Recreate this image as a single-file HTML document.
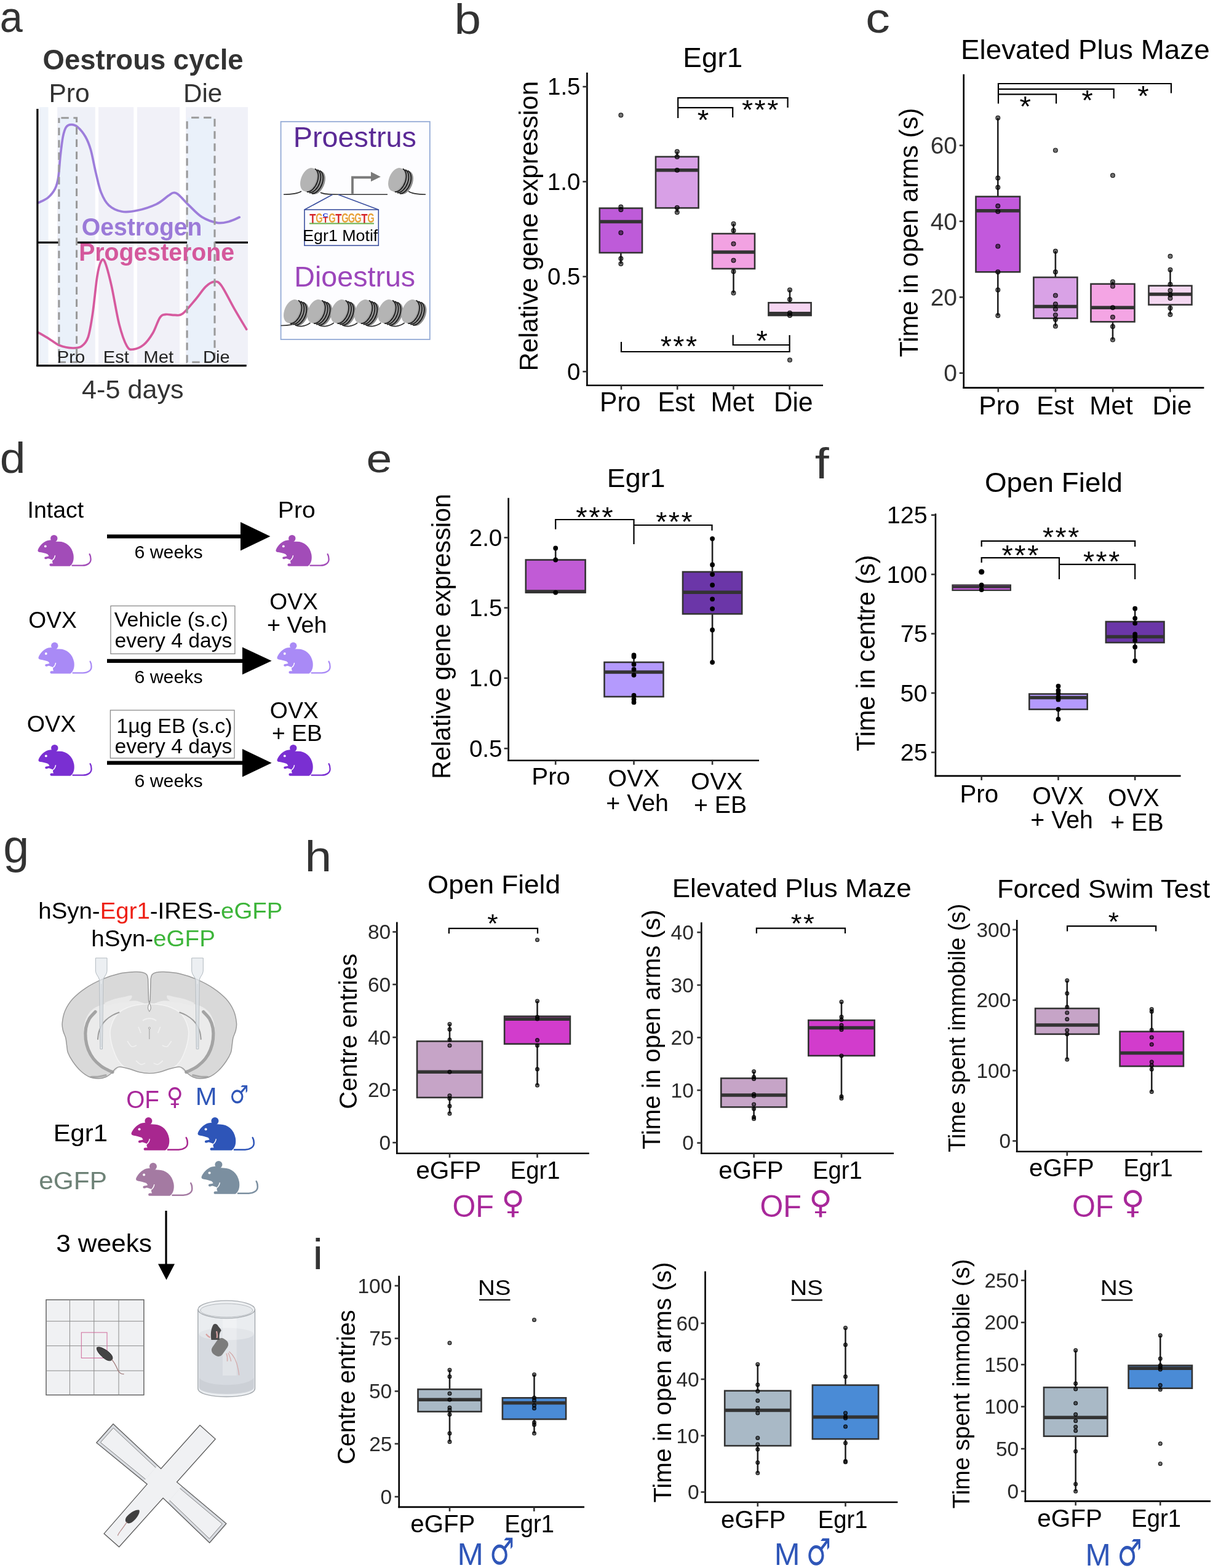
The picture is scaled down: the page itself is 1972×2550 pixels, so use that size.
<!DOCTYPE html>
<html><head><meta charset="utf-8"><title>Figure</title>
<style>html,body{margin:0;padding:0;background:#fff;} svg{display:block;} text{font-family:"Liberation Sans", Arial, Helvetica, sans-serif;}</style>
</head><body>
<svg width="1972" height="2550" viewBox="0 0 1972 2550">
<rect x="0" y="0" width="1972" height="2550" fill="#fff"/>
<text x="-0.16" y="51.50" font-size="70.00" fill="#333" textLength="37.04" lengthAdjust="spacingAndGlyphs" style="">a</text>
<text x="738.42" y="55.22" font-size="67.62" fill="#333" textLength="43.51" lengthAdjust="spacingAndGlyphs" style="">b</text>
<text x="1407.24" y="52.62" font-size="67.82" fill="#333" textLength="39.54" lengthAdjust="spacingAndGlyphs" style="">c</text>
<text x="-0.20" y="768.59" font-size="71.16" fill="#333" textLength="41.77" lengthAdjust="spacingAndGlyphs" style="">d</text>
<text x="595.60" y="767.76" font-size="64.00" fill="#333" textLength="41.77" lengthAdjust="spacingAndGlyphs" style="">e</text>
<text x="1324.66" y="777.60" font-size="71.31" fill="#333" textLength="22.96" lengthAdjust="spacingAndGlyphs" style="">f</text>
<text x="5.28" y="1402.96" font-size="75.44" fill="#333" textLength="42.02" lengthAdjust="spacingAndGlyphs" style="">g</text>
<text x="495.40" y="1417.00" font-size="70.07" fill="#333" textLength="43.70" lengthAdjust="spacingAndGlyphs" style="">h</text>
<text x="508.46" y="2063.90" font-size="71.31" fill="#333" textLength="16.54" lengthAdjust="spacingAndGlyphs" style="">i</text>
<rect x="64.00" y="174.20" width="14.50" height="420.20" fill="#eef3fa" stroke="none" stroke-width="0"/>
<rect x="93.20" y="174.20" width="61.60" height="420.20" fill="#eff1f8" stroke="none" stroke-width="0"/>
<rect x="160.00" y="174.20" width="57.30" height="420.20" fill="#f1f1f8" stroke="none" stroke-width="0"/>
<rect x="223.00" y="174.20" width="69.10" height="420.20" fill="#f1f1f8" stroke="none" stroke-width="0"/>
<rect x="302.00" y="174.20" width="101.00" height="420.20" fill="#f0f1f8" stroke="none" stroke-width="0"/>
<line x1="61.00" y1="394.40" x2="403.00" y2="394.40" stroke="#000" stroke-width="3.2"/>
<rect x="95.90" y="191.80" width="28.70" height="397.20" fill="#eaf1fa" stroke="none" stroke-width="0"/>
<rect x="304.10" y="191.20" width="44.90" height="397.80" fill="#eaf1fa" stroke="none" stroke-width="0"/>
<path d="M62.40,329.70 C65.02,328.30 73.55,325.15 78.10,321.30 C82.65,317.45 86.90,312.20 89.70,306.60 C92.50,301.00 93.50,296.47 94.90,287.70 C96.30,278.93 96.87,264.87 98.10,254.00 C99.33,243.13 100.73,230.37 102.30,222.50 C103.87,214.63 105.22,210.12 107.50,206.80 C109.78,203.48 112.83,202.60 116.00,202.60 C119.17,202.60 122.67,203.48 126.50,206.80 C130.33,210.12 135.50,216.37 139.00,222.50 C142.50,228.63 144.68,233.78 147.50,243.60 C150.32,253.42 153.10,269.85 155.90,281.40 C158.70,292.95 160.80,304.15 164.30,312.90 C167.80,321.65 171.30,328.72 176.90,333.90 C182.50,339.08 190.20,342.60 197.90,344.00 C205.60,345.40 213.63,344.33 223.10,342.30 C232.57,340.27 246.22,335.85 254.70,331.80 C263.18,327.75 269.45,321.05 274.00,318.00 C278.55,314.95 279.33,313.75 282.00,313.50 C284.67,313.25 285.80,313.10 290.00,316.50 C294.20,319.90 300.83,327.83 307.20,333.90 C313.57,339.97 320.50,348.17 328.20,352.90 C335.90,357.63 346.03,361.08 353.40,362.30 C360.77,363.52 366.43,361.70 372.40,360.20 C378.37,358.70 386.40,354.45 389.20,353.30" fill="none" stroke="#9d7ddb" stroke-width="3.7" stroke-linecap="round"/>
<path d="M62.40,540.80 C65.37,542.55 74.43,547.80 80.20,551.30 C85.97,554.80 90.70,559.35 97.00,561.80 C103.30,564.25 112.03,565.82 118.00,566.00 C123.97,566.18 128.58,565.88 132.80,562.90 C137.02,559.92 140.33,556.87 143.30,548.10 C146.27,539.33 148.15,526.75 150.60,510.30 C153.05,493.85 155.72,463.58 158.00,449.40 C160.28,435.22 162.20,429.07 164.30,425.20 C166.40,421.33 167.80,419.72 170.60,426.20 C173.40,432.68 177.25,447.28 181.10,464.10 C184.95,480.92 189.50,510.63 193.70,527.10 C197.90,543.57 202.45,556.07 206.30,562.90 C210.15,569.73 212.25,568.47 216.80,568.10 C221.35,567.73 228.33,565.08 233.60,560.70 C238.87,556.32 244.02,549.15 248.40,541.80 C252.78,534.45 256.40,521.67 259.90,516.60 C263.40,511.53 265.37,512.10 269.40,511.40 C273.43,510.70 279.55,512.58 284.10,512.40 C288.65,512.22 291.10,514.50 296.70,510.30 C302.30,506.10 311.40,494.55 317.70,487.20 C324.00,479.85 329.42,471.03 334.50,466.20 C339.58,461.37 344.00,458.55 348.20,458.20 C352.40,457.85 354.27,456.82 359.70,464.10 C365.13,471.38 373.97,490.00 380.80,501.90 C387.63,513.80 397.38,529.90 400.70,535.50" fill="none" stroke="#d65a9e" stroke-width="3.7" stroke-linecap="round"/>
<rect x="95.90" y="191.80" width="28.70" height="397.20" fill="none" stroke="#9a9a9a" stroke-width="3.1" stroke-dasharray="12.4,7.6" stroke-dashoffset="16.5"/>
<rect x="304.10" y="191.20" width="44.90" height="397.80" fill="none" stroke="#9a9a9a" stroke-width="3.1" stroke-dasharray="12.4,7.6" stroke-dashoffset="13"/>
<line x1="60.90" y1="177.00" x2="60.90" y2="596.00" stroke="#000" stroke-width="3.2"/>
<line x1="59.30" y1="594.60" x2="400.70" y2="594.60" stroke="#000" stroke-width="3.4"/>
<text x="69.58" y="112.80" font-size="47.00" fill="#333" textLength="326.04" lengthAdjust="spacingAndGlyphs" style="font-weight:bold;">Oestrous cycle</text>
<text x="79.39" y="165.70" font-size="43.00" fill="#333" textLength="66.26" lengthAdjust="spacingAndGlyphs" style="">Pro</text>
<text x="298.03" y="165.70" font-size="43.00" fill="#333" textLength="63.30" lengthAdjust="spacingAndGlyphs" style="">Die</text>
<text x="132.84" y="383.30" font-size="40.00" fill="#9b7ad8" textLength="195.66" lengthAdjust="spacingAndGlyphs" style="font-weight:bold;">Oestrogen</text>
<text x="128.15" y="424.10" font-size="40.00" fill="#d4589c" textLength="252.98" lengthAdjust="spacingAndGlyphs" style="font-weight:bold;">Progesterone</text>
<text x="92.66" y="590.00" font-size="28.50" fill="#222" textLength="45.55" lengthAdjust="spacingAndGlyphs" style="">Pro</text>
<text x="167.88" y="590.00" font-size="28.50" fill="#222" textLength="41.91" lengthAdjust="spacingAndGlyphs" style="">Est</text>
<text x="233.36" y="590.00" font-size="28.50" fill="#222" textLength="48.85" lengthAdjust="spacingAndGlyphs" style="">Met</text>
<text x="330.07" y="590.00" font-size="28.50" fill="#222" textLength="43.65" lengthAdjust="spacingAndGlyphs" style="">Die</text>
<text x="133.14" y="647.70" font-size="43.00" fill="#333" textLength="165.40" lengthAdjust="spacingAndGlyphs" style="">4-5 days</text>
<rect x="456.60" y="197.80" width="242.20" height="354.20" fill="#fdfdff" stroke="#93aad6" stroke-width="1.8"/>
<text x="476.76" y="238.70" font-size="46.00" fill="#5b2a96" textLength="200.15" lengthAdjust="spacingAndGlyphs" style="">Proestrus</text>
<text x="478.27" y="465.80" font-size="46.00" fill="#9c46bb" textLength="196.90" lengthAdjust="spacingAndGlyphs" style="">Dioestrus</text>
<path d="M461,316.2 C475,316.2 484,315 490,311 M521,313 C526,316 535,316.2 550,316.2 L630,316.2 M664,311 C670,315.5 680,316.2 692,316.2" fill="none" stroke="#333" stroke-width="1.6"/>
<g transform="translate(501.50,292.00) scale(1.0)">
<ellipse cx="14.00" cy="5.00" rx="12" ry="20" transform="rotate(22 14.00 5.00)" fill="#8e8e8e"/>
<ellipse cx="11.20" cy="4.00" rx="12" ry="20" transform="rotate(22 11.20 4.00)" fill="#939393"/>
<ellipse cx="8.40" cy="3.00" rx="12" ry="20" transform="rotate(22 8.40 3.00)" fill="#979797"/>
<ellipse cx="5.60" cy="2.00" rx="12" ry="20" transform="rotate(22 5.60 2.00)" fill="#9b9b9b"/>
<ellipse cx="2.80" cy="1.00" rx="12" ry="20" transform="rotate(22 2.80 1.00)" fill="#a0a0a0"/>
<path d="M2.92,-18.40 A12,20 0 0 1 4.92,21.20" transform="rotate(22 3.92 1.40)" fill="none" stroke="#1e1e1e" stroke-width="1.8"/>
<path d="M6.84,-17.00 A12,20 0 0 1 8.84,22.60" transform="rotate(22 7.84 2.80)" fill="none" stroke="#1e1e1e" stroke-width="1.8"/>
<path d="M10.76,-15.60 A12,20 0 0 1 12.76,24.00" transform="rotate(22 11.76 4.20)" fill="none" stroke="#1e1e1e" stroke-width="1.8"/>
<ellipse cx="0" cy="0" rx="12" ry="20" transform="rotate(22)" fill="#b4b4b4"/>
</g>
<g transform="translate(644.50,292.00) scale(1.0)">
<ellipse cx="14.00" cy="5.00" rx="12" ry="20" transform="rotate(22 14.00 5.00)" fill="#8e8e8e"/>
<ellipse cx="11.20" cy="4.00" rx="12" ry="20" transform="rotate(22 11.20 4.00)" fill="#939393"/>
<ellipse cx="8.40" cy="3.00" rx="12" ry="20" transform="rotate(22 8.40 3.00)" fill="#979797"/>
<ellipse cx="5.60" cy="2.00" rx="12" ry="20" transform="rotate(22 5.60 2.00)" fill="#9b9b9b"/>
<ellipse cx="2.80" cy="1.00" rx="12" ry="20" transform="rotate(22 2.80 1.00)" fill="#a0a0a0"/>
<path d="M2.92,-18.40 A12,20 0 0 1 4.92,21.20" transform="rotate(22 3.92 1.40)" fill="none" stroke="#1e1e1e" stroke-width="1.8"/>
<path d="M6.84,-17.00 A12,20 0 0 1 8.84,22.60" transform="rotate(22 7.84 2.80)" fill="none" stroke="#1e1e1e" stroke-width="1.8"/>
<path d="M10.76,-15.60 A12,20 0 0 1 12.76,24.00" transform="rotate(22 11.76 4.20)" fill="none" stroke="#1e1e1e" stroke-width="1.8"/>
<ellipse cx="0" cy="0" rx="12" ry="20" transform="rotate(22)" fill="#b4b4b4"/>
</g>
<path d="M573,315.5 L573,288.5 L604,288.5" fill="none" stroke="#7a7a7a" stroke-width="3.8"/>
<path d="M603,279.6 L618.8,287.5 L603,295.3 Z" fill="#7a7a7a" stroke="none" stroke-width="0"/>
<path d="M540.5,316.5 L495,341 M550,316.5 L615.3,341" fill="none" stroke="#3b4f9f" stroke-width="1.6"/>
<rect x="495.00" y="341.00" width="120.30" height="58.30" fill="none" stroke="#3b4f9f" stroke-width="1.6"/>
<text x="503.13" y="362.50" font-size="22.90" fill="#d62728" textLength="10.25" lengthAdjust="spacingAndGlyphs" style="font-weight:bold;">T</text>
<text x="513.21" y="362.28" font-size="22.25" fill="#e8a23a" textLength="11.41" lengthAdjust="spacingAndGlyphs" style="font-weight:bold;">G</text>
<text x="524.48" y="352.60" font-size="9.86" fill="#2a3fd6" textLength="9.37" lengthAdjust="spacingAndGlyphs" style="font-weight:bold;">C</text>
<text x="524.86" y="362.00" font-size="13.48" fill="#d62728" textLength="8.80" lengthAdjust="spacingAndGlyphs" style="font-weight:bold;">T</text>
<text x="534.21" y="362.28" font-size="22.25" fill="#e8a23a" textLength="11.41" lengthAdjust="spacingAndGlyphs" style="font-weight:bold;">G</text>
<text x="545.13" y="362.50" font-size="22.90" fill="#d62728" textLength="10.25" lengthAdjust="spacingAndGlyphs" style="font-weight:bold;">T</text>
<text x="555.21" y="362.28" font-size="22.25" fill="#e8a23a" textLength="11.41" lengthAdjust="spacingAndGlyphs" style="font-weight:bold;">G</text>
<text x="565.71" y="362.28" font-size="22.25" fill="#e8a23a" textLength="11.41" lengthAdjust="spacingAndGlyphs" style="font-weight:bold;">G</text>
<text x="576.21" y="362.28" font-size="22.25" fill="#e8a23a" textLength="11.41" lengthAdjust="spacingAndGlyphs" style="font-weight:bold;">G</text>
<text x="587.13" y="362.50" font-size="22.90" fill="#d62728" textLength="10.25" lengthAdjust="spacingAndGlyphs" style="font-weight:bold;">T</text>
<text x="597.21" y="362.28" font-size="22.25" fill="#e8a23a" textLength="11.41" lengthAdjust="spacingAndGlyphs" style="font-weight:bold;">G</text>
<rect x="503.00" y="362.50" width="105.00" height="2.00" fill="#6ab04c" stroke="none" stroke-width="0"/>
<text x="492.26" y="391.50" font-size="26.00" fill="#000" textLength="122.07" lengthAdjust="spacingAndGlyphs" style="">Egr1 Motif</text>
<path d="M456.6,529.5 C470,529.5 478,528 484,524" fill="none" stroke="#333" stroke-width="1.6"/>
<g transform="translate(474.50,506.00) scale(1.0)">
<ellipse cx="14.00" cy="5.00" rx="12" ry="20" transform="rotate(22 14.00 5.00)" fill="#8e8e8e"/>
<ellipse cx="11.20" cy="4.00" rx="12" ry="20" transform="rotate(22 11.20 4.00)" fill="#939393"/>
<ellipse cx="8.40" cy="3.00" rx="12" ry="20" transform="rotate(22 8.40 3.00)" fill="#979797"/>
<ellipse cx="5.60" cy="2.00" rx="12" ry="20" transform="rotate(22 5.60 2.00)" fill="#9b9b9b"/>
<ellipse cx="2.80" cy="1.00" rx="12" ry="20" transform="rotate(22 2.80 1.00)" fill="#a0a0a0"/>
<path d="M2.92,-18.40 A12,20 0 0 1 4.92,21.20" transform="rotate(22 3.92 1.40)" fill="none" stroke="#1e1e1e" stroke-width="1.8"/>
<path d="M6.84,-17.00 A12,20 0 0 1 8.84,22.60" transform="rotate(22 7.84 2.80)" fill="none" stroke="#1e1e1e" stroke-width="1.8"/>
<path d="M10.76,-15.60 A12,20 0 0 1 12.76,24.00" transform="rotate(22 11.76 4.20)" fill="none" stroke="#1e1e1e" stroke-width="1.8"/>
<ellipse cx="0" cy="0" rx="12" ry="20" transform="rotate(22)" fill="#b4b4b4"/>
</g>
<path d="M480.50,529.00 C486.50,532.00 496.50,531.00 504.50,525.00" fill="none" stroke="#333" stroke-width="1.6"/>
<g transform="translate(512.80,506.00) scale(1.0)">
<ellipse cx="14.00" cy="5.00" rx="12" ry="20" transform="rotate(22 14.00 5.00)" fill="#8e8e8e"/>
<ellipse cx="11.20" cy="4.00" rx="12" ry="20" transform="rotate(22 11.20 4.00)" fill="#939393"/>
<ellipse cx="8.40" cy="3.00" rx="12" ry="20" transform="rotate(22 8.40 3.00)" fill="#979797"/>
<ellipse cx="5.60" cy="2.00" rx="12" ry="20" transform="rotate(22 5.60 2.00)" fill="#9b9b9b"/>
<ellipse cx="2.80" cy="1.00" rx="12" ry="20" transform="rotate(22 2.80 1.00)" fill="#a0a0a0"/>
<path d="M2.92,-18.40 A12,20 0 0 1 4.92,21.20" transform="rotate(22 3.92 1.40)" fill="none" stroke="#1e1e1e" stroke-width="1.8"/>
<path d="M6.84,-17.00 A12,20 0 0 1 8.84,22.60" transform="rotate(22 7.84 2.80)" fill="none" stroke="#1e1e1e" stroke-width="1.8"/>
<path d="M10.76,-15.60 A12,20 0 0 1 12.76,24.00" transform="rotate(22 11.76 4.20)" fill="none" stroke="#1e1e1e" stroke-width="1.8"/>
<ellipse cx="0" cy="0" rx="12" ry="20" transform="rotate(22)" fill="#b4b4b4"/>
</g>
<path d="M518.80,529.00 C524.80,532.00 534.80,531.00 542.80,525.00" fill="none" stroke="#333" stroke-width="1.6"/>
<g transform="translate(551.10,506.00) scale(1.0)">
<ellipse cx="14.00" cy="5.00" rx="12" ry="20" transform="rotate(22 14.00 5.00)" fill="#8e8e8e"/>
<ellipse cx="11.20" cy="4.00" rx="12" ry="20" transform="rotate(22 11.20 4.00)" fill="#939393"/>
<ellipse cx="8.40" cy="3.00" rx="12" ry="20" transform="rotate(22 8.40 3.00)" fill="#979797"/>
<ellipse cx="5.60" cy="2.00" rx="12" ry="20" transform="rotate(22 5.60 2.00)" fill="#9b9b9b"/>
<ellipse cx="2.80" cy="1.00" rx="12" ry="20" transform="rotate(22 2.80 1.00)" fill="#a0a0a0"/>
<path d="M2.92,-18.40 A12,20 0 0 1 4.92,21.20" transform="rotate(22 3.92 1.40)" fill="none" stroke="#1e1e1e" stroke-width="1.8"/>
<path d="M6.84,-17.00 A12,20 0 0 1 8.84,22.60" transform="rotate(22 7.84 2.80)" fill="none" stroke="#1e1e1e" stroke-width="1.8"/>
<path d="M10.76,-15.60 A12,20 0 0 1 12.76,24.00" transform="rotate(22 11.76 4.20)" fill="none" stroke="#1e1e1e" stroke-width="1.8"/>
<ellipse cx="0" cy="0" rx="12" ry="20" transform="rotate(22)" fill="#b4b4b4"/>
</g>
<path d="M557.10,529.00 C563.10,532.00 573.10,531.00 581.10,525.00" fill="none" stroke="#333" stroke-width="1.6"/>
<g transform="translate(589.40,506.00) scale(1.0)">
<ellipse cx="14.00" cy="5.00" rx="12" ry="20" transform="rotate(22 14.00 5.00)" fill="#8e8e8e"/>
<ellipse cx="11.20" cy="4.00" rx="12" ry="20" transform="rotate(22 11.20 4.00)" fill="#939393"/>
<ellipse cx="8.40" cy="3.00" rx="12" ry="20" transform="rotate(22 8.40 3.00)" fill="#979797"/>
<ellipse cx="5.60" cy="2.00" rx="12" ry="20" transform="rotate(22 5.60 2.00)" fill="#9b9b9b"/>
<ellipse cx="2.80" cy="1.00" rx="12" ry="20" transform="rotate(22 2.80 1.00)" fill="#a0a0a0"/>
<path d="M2.92,-18.40 A12,20 0 0 1 4.92,21.20" transform="rotate(22 3.92 1.40)" fill="none" stroke="#1e1e1e" stroke-width="1.8"/>
<path d="M6.84,-17.00 A12,20 0 0 1 8.84,22.60" transform="rotate(22 7.84 2.80)" fill="none" stroke="#1e1e1e" stroke-width="1.8"/>
<path d="M10.76,-15.60 A12,20 0 0 1 12.76,24.00" transform="rotate(22 11.76 4.20)" fill="none" stroke="#1e1e1e" stroke-width="1.8"/>
<ellipse cx="0" cy="0" rx="12" ry="20" transform="rotate(22)" fill="#b4b4b4"/>
</g>
<path d="M595.40,529.00 C601.40,532.00 611.40,531.00 619.40,525.00" fill="none" stroke="#333" stroke-width="1.6"/>
<g transform="translate(627.70,506.00) scale(1.0)">
<ellipse cx="14.00" cy="5.00" rx="12" ry="20" transform="rotate(22 14.00 5.00)" fill="#8e8e8e"/>
<ellipse cx="11.20" cy="4.00" rx="12" ry="20" transform="rotate(22 11.20 4.00)" fill="#939393"/>
<ellipse cx="8.40" cy="3.00" rx="12" ry="20" transform="rotate(22 8.40 3.00)" fill="#979797"/>
<ellipse cx="5.60" cy="2.00" rx="12" ry="20" transform="rotate(22 5.60 2.00)" fill="#9b9b9b"/>
<ellipse cx="2.80" cy="1.00" rx="12" ry="20" transform="rotate(22 2.80 1.00)" fill="#a0a0a0"/>
<path d="M2.92,-18.40 A12,20 0 0 1 4.92,21.20" transform="rotate(22 3.92 1.40)" fill="none" stroke="#1e1e1e" stroke-width="1.8"/>
<path d="M6.84,-17.00 A12,20 0 0 1 8.84,22.60" transform="rotate(22 7.84 2.80)" fill="none" stroke="#1e1e1e" stroke-width="1.8"/>
<path d="M10.76,-15.60 A12,20 0 0 1 12.76,24.00" transform="rotate(22 11.76 4.20)" fill="none" stroke="#1e1e1e" stroke-width="1.8"/>
<ellipse cx="0" cy="0" rx="12" ry="20" transform="rotate(22)" fill="#b4b4b4"/>
</g>
<path d="M633.70,529.00 C639.70,532.00 649.70,531.00 657.70,525.00" fill="none" stroke="#333" stroke-width="1.6"/>
<g transform="translate(666.00,506.00) scale(1.0)">
<ellipse cx="14.00" cy="5.00" rx="12" ry="20" transform="rotate(22 14.00 5.00)" fill="#8e8e8e"/>
<ellipse cx="11.20" cy="4.00" rx="12" ry="20" transform="rotate(22 11.20 4.00)" fill="#939393"/>
<ellipse cx="8.40" cy="3.00" rx="12" ry="20" transform="rotate(22 8.40 3.00)" fill="#979797"/>
<ellipse cx="5.60" cy="2.00" rx="12" ry="20" transform="rotate(22 5.60 2.00)" fill="#9b9b9b"/>
<ellipse cx="2.80" cy="1.00" rx="12" ry="20" transform="rotate(22 2.80 1.00)" fill="#a0a0a0"/>
<path d="M2.92,-18.40 A12,20 0 0 1 4.92,21.20" transform="rotate(22 3.92 1.40)" fill="none" stroke="#1e1e1e" stroke-width="1.8"/>
<path d="M6.84,-17.00 A12,20 0 0 1 8.84,22.60" transform="rotate(22 7.84 2.80)" fill="none" stroke="#1e1e1e" stroke-width="1.8"/>
<path d="M10.76,-15.60 A12,20 0 0 1 12.76,24.00" transform="rotate(22 11.76 4.20)" fill="none" stroke="#1e1e1e" stroke-width="1.8"/>
<ellipse cx="0" cy="0" rx="12" ry="20" transform="rotate(22)" fill="#b4b4b4"/>
</g>
<line x1="1009.40" y1="336.50" x2="1009.40" y2="338.60" stroke="#222" stroke-width="2.6"/>
<line x1="1009.40" y1="411.00" x2="1009.40" y2="428.90" stroke="#222" stroke-width="2.6"/>
<rect x="974.80" y="338.60" width="69.20" height="72.40" fill="#be5bd9" stroke="#333" stroke-width="2.6"/>
<line x1="974.80" y1="360.50" x2="1044.00" y2="360.50" stroke="#333" stroke-width="5.5"/>
<circle cx="1009.40" cy="187.30" r="3.40" fill="rgba(0,0,0,0.55)" stroke="rgba(0,0,0,0.85)" stroke-width="1.2"/>
<circle cx="1009.40" cy="336.50" r="3.40" fill="rgba(0,0,0,0.55)" stroke="rgba(0,0,0,0.85)" stroke-width="1.2"/>
<circle cx="1009.40" cy="341.00" r="3.40" fill="rgba(0,0,0,0.55)" stroke="rgba(0,0,0,0.85)" stroke-width="1.2"/>
<circle cx="1009.40" cy="378.40" r="3.40" fill="rgba(0,0,0,0.55)" stroke="rgba(0,0,0,0.85)" stroke-width="1.2"/>
<circle cx="1009.40" cy="420.60" r="3.40" fill="rgba(0,0,0,0.55)" stroke="rgba(0,0,0,0.85)" stroke-width="1.2"/>
<circle cx="1009.40" cy="428.90" r="3.40" fill="rgba(0,0,0,0.55)" stroke="rgba(0,0,0,0.85)" stroke-width="1.2"/>
<line x1="1100.80" y1="246.60" x2="1100.80" y2="254.90" stroke="#222" stroke-width="2.6"/>
<line x1="1100.80" y1="338.20" x2="1100.80" y2="345.20" stroke="#222" stroke-width="2.6"/>
<rect x="1066.00" y="254.90" width="69.60" height="83.30" fill="#d8a0e6" stroke="#333" stroke-width="2.6"/>
<line x1="1066.00" y1="276.80" x2="1135.60" y2="276.80" stroke="#333" stroke-width="5.5"/>
<circle cx="1100.80" cy="246.60" r="3.40" fill="rgba(0,0,0,0.55)" stroke="rgba(0,0,0,0.85)" stroke-width="1.2"/>
<circle cx="1100.80" cy="254.90" r="3.40" fill="rgba(0,0,0,0.55)" stroke="rgba(0,0,0,0.85)" stroke-width="1.2"/>
<circle cx="1100.80" cy="276.80" r="3.40" fill="rgba(0,0,0,0.55)" stroke="rgba(0,0,0,0.85)" stroke-width="1.2"/>
<circle cx="1100.80" cy="337.70" r="3.40" fill="rgba(0,0,0,0.55)" stroke="rgba(0,0,0,0.85)" stroke-width="1.2"/>
<circle cx="1100.80" cy="345.20" r="3.40" fill="rgba(0,0,0,0.55)" stroke="rgba(0,0,0,0.85)" stroke-width="1.2"/>
<line x1="1192.50" y1="363.90" x2="1192.50" y2="380.00" stroke="#222" stroke-width="2.6"/>
<line x1="1192.50" y1="437.00" x2="1192.50" y2="476.60" stroke="#222" stroke-width="2.6"/>
<rect x="1158.00" y="380.00" width="69.00" height="57.00" fill="#f2a2e2" stroke="#333" stroke-width="2.6"/>
<line x1="1158.00" y1="410.00" x2="1227.00" y2="410.00" stroke="#333" stroke-width="5.5"/>
<circle cx="1192.50" cy="363.90" r="3.40" fill="rgba(0,0,0,0.55)" stroke="rgba(0,0,0,0.85)" stroke-width="1.2"/>
<circle cx="1192.50" cy="375.00" r="3.40" fill="rgba(0,0,0,0.55)" stroke="rgba(0,0,0,0.85)" stroke-width="1.2"/>
<circle cx="1192.50" cy="396.60" r="3.40" fill="rgba(0,0,0,0.55)" stroke="rgba(0,0,0,0.85)" stroke-width="1.2"/>
<circle cx="1192.50" cy="423.50" r="3.40" fill="rgba(0,0,0,0.55)" stroke="rgba(0,0,0,0.85)" stroke-width="1.2"/>
<circle cx="1192.50" cy="441.40" r="3.40" fill="rgba(0,0,0,0.55)" stroke="rgba(0,0,0,0.85)" stroke-width="1.2"/>
<circle cx="1192.50" cy="476.60" r="3.40" fill="rgba(0,0,0,0.55)" stroke="rgba(0,0,0,0.85)" stroke-width="1.2"/>
<line x1="1284.00" y1="471.60" x2="1284.00" y2="492.30" stroke="#222" stroke-width="2.6"/>
<rect x="1249.40" y="492.30" width="69.20" height="20.70" fill="#f6d6f2" stroke="#333" stroke-width="2.6"/>
<line x1="1249.40" y1="509.70" x2="1318.60" y2="509.70" stroke="#333" stroke-width="5.5"/>
<circle cx="1284.00" cy="471.60" r="3.40" fill="rgba(0,0,0,0.55)" stroke="rgba(0,0,0,0.85)" stroke-width="1.2"/>
<circle cx="1284.00" cy="487.00" r="3.40" fill="rgba(0,0,0,0.55)" stroke="rgba(0,0,0,0.85)" stroke-width="1.2"/>
<circle cx="1284.00" cy="508.90" r="3.40" fill="rgba(0,0,0,0.55)" stroke="rgba(0,0,0,0.85)" stroke-width="1.2"/>
<circle cx="1284.00" cy="513.00" r="3.40" fill="rgba(0,0,0,0.55)" stroke="rgba(0,0,0,0.85)" stroke-width="1.2"/>
<circle cx="1284.00" cy="585.60" r="3.40" fill="rgba(0,0,0,0.55)" stroke="rgba(0,0,0,0.85)" stroke-width="1.2"/>
<line x1="954.40" y1="118.00" x2="954.40" y2="628.00" stroke="#000" stroke-width="2.6"/>
<line x1="953.10" y1="626.70" x2="1338.00" y2="626.70" stroke="#000" stroke-width="2.6"/>
<line x1="1010.00" y1="626.70" x2="1010.00" y2="633.70" stroke="#333" stroke-width="2.6"/>
<line x1="1101.20" y1="626.70" x2="1101.20" y2="633.70" stroke="#333" stroke-width="2.6"/>
<line x1="1192.40" y1="626.70" x2="1192.40" y2="633.70" stroke="#333" stroke-width="2.6"/>
<line x1="1283.60" y1="626.70" x2="1283.60" y2="633.70" stroke="#333" stroke-width="2.6"/>
<line x1="947.40" y1="141.00" x2="954.40" y2="141.00" stroke="#333" stroke-width="2.6"/>
<text x="890.02" y="154.47" font-size="38.50" fill="#000" textLength="53.52" lengthAdjust="spacingAndGlyphs" style="">1.5</text>
<line x1="947.40" y1="295.40" x2="954.40" y2="295.40" stroke="#333" stroke-width="2.6"/>
<text x="889.83" y="308.88" font-size="38.50" fill="#000" textLength="53.52" lengthAdjust="spacingAndGlyphs" style="">1.0</text>
<line x1="947.40" y1="449.85" x2="954.40" y2="449.85" stroke="#333" stroke-width="2.6"/>
<text x="890.03" y="463.33" font-size="38.50" fill="#000" textLength="53.52" lengthAdjust="spacingAndGlyphs" style="">0.5</text>
<line x1="947.40" y1="604.30" x2="954.40" y2="604.30" stroke="#333" stroke-width="2.6"/>
<text x="921.98" y="617.77" font-size="38.50" fill="#000" textLength="21.41" lengthAdjust="spacingAndGlyphs" style="">0</text>
<text x="975.09" y="669.40" font-size="43.50" fill="#000" textLength="66.37" lengthAdjust="spacingAndGlyphs" style="">Pro</text>
<text x="1069.58" y="669.40" font-size="43.50" fill="#000" textLength="60.03" lengthAdjust="spacingAndGlyphs" style="">Est</text>
<text x="1155.51" y="669.40" font-size="43.50" fill="#000" textLength="70.59" lengthAdjust="spacingAndGlyphs" style="">Met</text>
<text x="1258.02" y="669.40" font-size="43.50" fill="#000" textLength="63.40" lengthAdjust="spacingAndGlyphs" style="">Die</text>
<text x="1110.33" y="108.60" font-size="44.00" fill="#000" textLength="96.84" lengthAdjust="spacingAndGlyphs" style="">Egr1</text>
<text transform="translate(874.27,603.46) rotate(-90)" x="0" y="0" font-size="43.00" fill="#000" textLength="471.46" lengthAdjust="spacingAndGlyphs" style="">Relative gene expression</text>
<polyline points="1102.20,192.00 1102.20,159.20 1280.60,159.20 1280.60,174.90" stroke="#000" stroke-width="2.2" fill="none" stroke-linejoin="miter"/>
<polyline points="1102.20,175.10 1191.20,175.10 1191.20,190.90" stroke="#000" stroke-width="2.2" fill="none" stroke-linejoin="miter"/>
<text x="1205.90" y="193.96" font-size="44.00" fill="#000" textLength="18.15" lengthAdjust="spacingAndGlyphs" style="">*</text>
<text x="1226.55" y="193.96" font-size="44.00" fill="#000" textLength="18.15" lengthAdjust="spacingAndGlyphs" style="">*</text>
<text x="1247.21" y="193.96" font-size="44.00" fill="#000" textLength="18.15" lengthAdjust="spacingAndGlyphs" style="">*</text>
<text x="1133.68" y="210.54" font-size="45.71" fill="#000" textLength="18.59" lengthAdjust="spacingAndGlyphs" style="">*</text>
<polyline points="1010.00,556.10 1010.00,572.00 1283.60,572.00 1283.60,545.00" stroke="#000" stroke-width="2.2" fill="none" stroke-linejoin="miter"/>
<polyline points="1191.70,544.80 1191.70,561.00 1283.60,561.00" stroke="#000" stroke-width="2.2" fill="none" stroke-linejoin="miter"/>
<text x="1073.70" y="578.74" font-size="45.71" fill="#000" textLength="18.15" lengthAdjust="spacingAndGlyphs" style="">*</text>
<text x="1094.35" y="578.74" font-size="45.71" fill="#000" textLength="18.15" lengthAdjust="spacingAndGlyphs" style="">*</text>
<text x="1115.01" y="578.74" font-size="45.71" fill="#000" textLength="18.15" lengthAdjust="spacingAndGlyphs" style="">*</text>
<text x="1229.59" y="570.13" font-size="46.57" fill="#000" textLength="18.38" lengthAdjust="spacingAndGlyphs" style="">*</text>
<line x1="1622.30" y1="191.80" x2="1622.30" y2="319.70" stroke="#222" stroke-width="2.6"/>
<line x1="1622.30" y1="442.30" x2="1622.30" y2="513.30" stroke="#222" stroke-width="2.6"/>
<rect x="1586.50" y="319.70" width="71.60" height="122.60" fill="#c259dc" stroke="#333" stroke-width="2.6"/>
<line x1="1586.50" y1="342.80" x2="1658.10" y2="342.80" stroke="#333" stroke-width="5.5"/>
<circle cx="1622.30" cy="191.80" r="3.40" fill="rgba(0,0,0,0.55)" stroke="rgba(0,0,0,0.85)" stroke-width="1.2"/>
<circle cx="1622.30" cy="289.50" r="3.40" fill="rgba(0,0,0,0.55)" stroke="rgba(0,0,0,0.85)" stroke-width="1.2"/>
<circle cx="1622.30" cy="304.80" r="3.40" fill="rgba(0,0,0,0.55)" stroke="rgba(0,0,0,0.85)" stroke-width="1.2"/>
<circle cx="1622.30" cy="335.00" r="3.40" fill="rgba(0,0,0,0.55)" stroke="rgba(0,0,0,0.85)" stroke-width="1.2"/>
<circle cx="1622.30" cy="343.90" r="3.40" fill="rgba(0,0,0,0.55)" stroke="rgba(0,0,0,0.85)" stroke-width="1.2"/>
<circle cx="1622.30" cy="400.40" r="3.40" fill="rgba(0,0,0,0.55)" stroke="rgba(0,0,0,0.85)" stroke-width="1.2"/>
<circle cx="1622.30" cy="442.30" r="3.40" fill="rgba(0,0,0,0.55)" stroke="rgba(0,0,0,0.85)" stroke-width="1.2"/>
<circle cx="1622.30" cy="471.40" r="3.40" fill="rgba(0,0,0,0.55)" stroke="rgba(0,0,0,0.85)" stroke-width="1.2"/>
<circle cx="1622.30" cy="513.30" r="3.40" fill="rgba(0,0,0,0.55)" stroke="rgba(0,0,0,0.85)" stroke-width="1.2"/>
<line x1="1715.90" y1="408.50" x2="1715.90" y2="451.00" stroke="#222" stroke-width="2.6"/>
<line x1="1715.90" y1="517.60" x2="1715.90" y2="530.40" stroke="#222" stroke-width="2.6"/>
<rect x="1680.40" y="451.00" width="71.00" height="66.60" fill="#d9a2e6" stroke="#333" stroke-width="2.6"/>
<line x1="1680.40" y1="498.40" x2="1751.40" y2="498.40" stroke="#333" stroke-width="5.5"/>
<circle cx="1715.90" cy="244.40" r="3.40" fill="rgba(0,0,0,0.55)" stroke="rgba(0,0,0,0.85)" stroke-width="1.2"/>
<circle cx="1715.90" cy="408.50" r="3.40" fill="rgba(0,0,0,0.55)" stroke="rgba(0,0,0,0.85)" stroke-width="1.2"/>
<circle cx="1715.90" cy="442.30" r="3.40" fill="rgba(0,0,0,0.55)" stroke="rgba(0,0,0,0.85)" stroke-width="1.2"/>
<circle cx="1715.90" cy="480.60" r="3.40" fill="rgba(0,0,0,0.55)" stroke="rgba(0,0,0,0.85)" stroke-width="1.2"/>
<circle cx="1715.90" cy="494.50" r="3.40" fill="rgba(0,0,0,0.55)" stroke="rgba(0,0,0,0.85)" stroke-width="1.2"/>
<circle cx="1715.90" cy="502.70" r="3.40" fill="rgba(0,0,0,0.55)" stroke="rgba(0,0,0,0.85)" stroke-width="1.2"/>
<circle cx="1715.90" cy="512.30" r="3.40" fill="rgba(0,0,0,0.55)" stroke="rgba(0,0,0,0.85)" stroke-width="1.2"/>
<circle cx="1715.90" cy="519.40" r="3.40" fill="rgba(0,0,0,0.55)" stroke="rgba(0,0,0,0.85)" stroke-width="1.2"/>
<circle cx="1715.90" cy="530.40" r="3.40" fill="rgba(0,0,0,0.55)" stroke="rgba(0,0,0,0.85)" stroke-width="1.2"/>
<line x1="1809.00" y1="458.30" x2="1809.00" y2="461.80" stroke="#222" stroke-width="2.6"/>
<line x1="1809.00" y1="523.30" x2="1809.00" y2="552.40" stroke="#222" stroke-width="2.6"/>
<rect x="1773.50" y="461.80" width="71.00" height="61.50" fill="#f4a5e4" stroke="#333" stroke-width="2.6"/>
<line x1="1773.50" y1="500.20" x2="1844.50" y2="500.20" stroke="#333" stroke-width="5.5"/>
<circle cx="1809.00" cy="285.30" r="3.40" fill="rgba(0,0,0,0.55)" stroke="rgba(0,0,0,0.85)" stroke-width="1.2"/>
<circle cx="1809.00" cy="458.30" r="3.40" fill="rgba(0,0,0,0.55)" stroke="rgba(0,0,0,0.85)" stroke-width="1.2"/>
<circle cx="1809.00" cy="465.40" r="3.40" fill="rgba(0,0,0,0.55)" stroke="rgba(0,0,0,0.85)" stroke-width="1.2"/>
<circle cx="1809.00" cy="500.20" r="3.40" fill="rgba(0,0,0,0.55)" stroke="rgba(0,0,0,0.85)" stroke-width="1.2"/>
<circle cx="1809.00" cy="515.80" r="3.40" fill="rgba(0,0,0,0.55)" stroke="rgba(0,0,0,0.85)" stroke-width="1.2"/>
<circle cx="1809.00" cy="531.10" r="3.40" fill="rgba(0,0,0,0.55)" stroke="rgba(0,0,0,0.85)" stroke-width="1.2"/>
<circle cx="1809.00" cy="552.40" r="3.40" fill="rgba(0,0,0,0.55)" stroke="rgba(0,0,0,0.85)" stroke-width="1.2"/>
<line x1="1902.50" y1="438.70" x2="1902.50" y2="464.70" stroke="#222" stroke-width="2.6"/>
<line x1="1902.50" y1="495.60" x2="1902.50" y2="511.50" stroke="#222" stroke-width="2.6"/>
<rect x="1867.50" y="464.70" width="70.00" height="30.90" fill="#f5d8f2" stroke="#333" stroke-width="2.6"/>
<line x1="1867.50" y1="478.50" x2="1937.50" y2="478.50" stroke="#333" stroke-width="5.5"/>
<circle cx="1902.50" cy="416.70" r="3.40" fill="rgba(0,0,0,0.55)" stroke="rgba(0,0,0,0.85)" stroke-width="1.2"/>
<circle cx="1902.50" cy="438.70" r="3.40" fill="rgba(0,0,0,0.55)" stroke="rgba(0,0,0,0.85)" stroke-width="1.2"/>
<circle cx="1902.50" cy="462.50" r="3.40" fill="rgba(0,0,0,0.55)" stroke="rgba(0,0,0,0.85)" stroke-width="1.2"/>
<circle cx="1902.50" cy="472.50" r="3.40" fill="rgba(0,0,0,0.55)" stroke="rgba(0,0,0,0.85)" stroke-width="1.2"/>
<circle cx="1902.50" cy="479.60" r="3.40" fill="rgba(0,0,0,0.55)" stroke="rgba(0,0,0,0.85)" stroke-width="1.2"/>
<circle cx="1902.50" cy="484.90" r="3.40" fill="rgba(0,0,0,0.55)" stroke="rgba(0,0,0,0.85)" stroke-width="1.2"/>
<circle cx="1902.50" cy="500.90" r="3.40" fill="rgba(0,0,0,0.55)" stroke="rgba(0,0,0,0.85)" stroke-width="1.2"/>
<circle cx="1902.50" cy="511.50" r="3.40" fill="rgba(0,0,0,0.55)" stroke="rgba(0,0,0,0.85)" stroke-width="1.2"/>
<line x1="1566.70" y1="120.80" x2="1566.70" y2="631.90" stroke="#000" stroke-width="2.6"/>
<line x1="1565.40" y1="630.60" x2="1957.40" y2="630.60" stroke="#000" stroke-width="2.6"/>
<line x1="1622.80" y1="630.60" x2="1622.80" y2="637.60" stroke="#333" stroke-width="2.6"/>
<line x1="1716.00" y1="630.60" x2="1716.00" y2="637.60" stroke="#333" stroke-width="2.6"/>
<line x1="1809.20" y1="630.60" x2="1809.20" y2="637.60" stroke="#333" stroke-width="2.6"/>
<line x1="1902.40" y1="630.60" x2="1902.40" y2="637.60" stroke="#333" stroke-width="2.6"/>
<line x1="1559.70" y1="236.50" x2="1566.70" y2="236.50" stroke="#333" stroke-width="2.6"/>
<text x="1512.67" y="250.15" font-size="39.00" fill="#333" textLength="43.38" lengthAdjust="spacingAndGlyphs" style="">60</text>
<line x1="1559.70" y1="359.90" x2="1566.70" y2="359.90" stroke="#333" stroke-width="2.6"/>
<text x="1512.67" y="373.55" font-size="39.00" fill="#333" textLength="43.38" lengthAdjust="spacingAndGlyphs" style="">40</text>
<line x1="1559.70" y1="483.30" x2="1566.70" y2="483.30" stroke="#333" stroke-width="2.6"/>
<text x="1512.67" y="496.95" font-size="39.00" fill="#333" textLength="43.38" lengthAdjust="spacingAndGlyphs" style="">20</text>
<line x1="1559.70" y1="606.70" x2="1566.70" y2="606.70" stroke="#333" stroke-width="2.6"/>
<text x="1534.32" y="620.35" font-size="39.00" fill="#333" textLength="21.69" lengthAdjust="spacingAndGlyphs" style="">0</text>
<text x="1591.18" y="674.40" font-size="43.00" fill="#000" textLength="66.59" lengthAdjust="spacingAndGlyphs" style="">Pro</text>
<text x="1685.35" y="674.40" font-size="43.00" fill="#000" textLength="60.46" lengthAdjust="spacingAndGlyphs" style="">Est</text>
<text x="1771.22" y="674.40" font-size="43.00" fill="#000" textLength="70.48" lengthAdjust="spacingAndGlyphs" style="">Met</text>
<text x="1873.60" y="674.40" font-size="43.00" fill="#000" textLength="63.84" lengthAdjust="spacingAndGlyphs" style="">Die</text>
<text x="1561.94" y="96.00" font-size="45.00" fill="#000" textLength="404.77" lengthAdjust="spacingAndGlyphs" style="">Elevated Plus Maze</text>
<text transform="translate(1492.45,580.84) rotate(-90)" x="0" y="0" font-size="42.00" fill="#000" textLength="405.26" lengthAdjust="spacingAndGlyphs" style="">Time in open arms (s)</text>
<polyline points="1623.00,168.50 1623.00,136.00 1904.00,136.00 1904.00,151.60" stroke="#000" stroke-width="2.2" fill="none" stroke-linejoin="miter"/>
<polyline points="1623.00,144.90 1810.70,144.90 1810.70,160.20" stroke="#000" stroke-width="2.2" fill="none" stroke-linejoin="miter"/>
<polyline points="1623.00,153.40 1717.10,153.40 1717.10,168.50" stroke="#000" stroke-width="2.2" fill="none" stroke-linejoin="miter"/>
<text x="1657.59" y="189.13" font-size="46.57" fill="#000" textLength="18.48" lengthAdjust="spacingAndGlyphs" style="">*</text>
<text x="1758.50" y="179.24" font-size="45.71" fill="#000" textLength="18.27" lengthAdjust="spacingAndGlyphs" style="">*</text>
<text x="1849.39" y="172.14" font-size="45.71" fill="#000" textLength="18.48" lengthAdjust="spacingAndGlyphs" style="">*</text>
<text x="44.63" y="842.00" font-size="37.00" fill="#000" textLength="91.59" lengthAdjust="spacingAndGlyphs" style="">Intact</text>
<text x="451.88" y="842.00" font-size="37.00" fill="#000" textLength="60.73" lengthAdjust="spacingAndGlyphs" style="">Pro</text>
<g transform="translate(61.00,870.00) scale(1.0)">
<circle cx="26.8" cy="5.6" r="5.7" fill="#a24cb8"/>
<path d="M0.7,23.9 C2.5,19 9,11 16.5,9 L21.5,8.3 C26,10.5 30,10.8 34,10.8 C46,10.5 56,18.5 58.4,32 C59.6,40 57.8,47 52.5,50.8 L21.5,50.8 C19,50.8 18.6,47 21.5,46.6 L25.2,46.6 C23.8,44.5 23.8,42.5 24.6,40.8 C22,39.5 19,38.4 16.5,38.2 C14.5,39.5 11.5,39.6 11.2,37.4 C11.2,35.6 13.5,35 15.5,35.2 C16.8,35.1 18,34.6 18.5,34 C17.5,32.7 16.8,31.8 16.3,31.2 C12,29.6 8,28.6 4.2,28.1 C1.8,27.8 -0.2,26.5 0.7,23.9 Z" fill="#a24cb8"/>
<circle cx="12.8" cy="18.4" r="1.9" fill="#fff"/>
<path d="M28.6,33.2 C28.2,36.5 26.5,39.2 24.4,41" fill="none" stroke="#fff" stroke-width="1.3"/>
<path d="M56.5,49.7 L73,49.7 C80.5,49.7 86.6,46 86.6,39.6 C86.6,35.5 85.8,33 84.6,31.2" fill="none" stroke="#a24cb8" stroke-width="2.3" stroke-linecap="round"/>
</g>
<g transform="translate(448.00,870.00) scale(1.0)">
<circle cx="26.8" cy="5.6" r="5.7" fill="#a24cb8"/>
<path d="M0.7,23.9 C2.5,19 9,11 16.5,9 L21.5,8.3 C26,10.5 30,10.8 34,10.8 C46,10.5 56,18.5 58.4,32 C59.6,40 57.8,47 52.5,50.8 L21.5,50.8 C19,50.8 18.6,47 21.5,46.6 L25.2,46.6 C23.8,44.5 23.8,42.5 24.6,40.8 C22,39.5 19,38.4 16.5,38.2 C14.5,39.5 11.5,39.6 11.2,37.4 C11.2,35.6 13.5,35 15.5,35.2 C16.8,35.1 18,34.6 18.5,34 C17.5,32.7 16.8,31.8 16.3,31.2 C12,29.6 8,28.6 4.2,28.1 C1.8,27.8 -0.2,26.5 0.7,23.9 Z" fill="#a24cb8"/>
<circle cx="12.8" cy="18.4" r="1.9" fill="#fff"/>
<path d="M28.6,33.2 C28.2,36.5 26.5,39.2 24.4,41" fill="none" stroke="#fff" stroke-width="1.3"/>
<path d="M56.5,49.7 L73,49.7 C80.5,49.7 86.6,46 86.6,39.6 C86.6,35.5 85.8,33 84.6,31.2" fill="none" stroke="#a24cb8" stroke-width="2.3" stroke-linecap="round"/>
</g>
<line x1="174.00" y1="872.30" x2="392.00" y2="872.30" stroke="#000" stroke-width="6.2"/>
<path d="M391.00,849.10 L439.40,872.30 L391.00,895.50 Z" fill="#000" stroke="none" stroke-width="0"/>
<text x="218.49" y="907.80" font-size="30.00" fill="#000" textLength="111.13" lengthAdjust="spacingAndGlyphs" style="">6 weeks</text>
<text x="46.23" y="1020.80" font-size="36.00" fill="#000" textLength="78.49" lengthAdjust="spacingAndGlyphs" style="">OVX</text>
<rect x="180.00" y="985.40" width="201.90" height="77.90" fill="#fff" stroke="#8a8a8a" stroke-width="1.3"/>
<text x="185.83" y="1018.80" font-size="33.00" fill="#000" textLength="184.86" lengthAdjust="spacingAndGlyphs" style="">Vehicle (s.c)</text>
<text x="186.45" y="1053.00" font-size="33.00" fill="#000" textLength="191.01" lengthAdjust="spacingAndGlyphs" style="">every 4 days</text>
<line x1="174.00" y1="1074.80" x2="395.00" y2="1074.80" stroke="#000" stroke-width="6.2"/>
<path d="M394.00,1052.60 L441.60,1074.80 L394.00,1097.00 Z" fill="#000" stroke="none" stroke-width="0"/>
<text x="218.49" y="1110.50" font-size="30.00" fill="#000" textLength="111.13" lengthAdjust="spacingAndGlyphs" style="">6 weeks</text>
<text x="438.33" y="991.00" font-size="36.00" fill="#000" textLength="78.49" lengthAdjust="spacingAndGlyphs" style="">OVX</text>
<text x="434.12" y="1028.60" font-size="36.00" fill="#000" textLength="97.37" lengthAdjust="spacingAndGlyphs" style="">+ Veh</text>
<g transform="translate(62.00,1044.60) scale(1.0)">
<circle cx="26.8" cy="5.6" r="5.7" fill="#a98af6"/>
<path d="M0.7,23.9 C2.5,19 9,11 16.5,9 L21.5,8.3 C26,10.5 30,10.8 34,10.8 C46,10.5 56,18.5 58.4,32 C59.6,40 57.8,47 52.5,50.8 L21.5,50.8 C19,50.8 18.6,47 21.5,46.6 L25.2,46.6 C23.8,44.5 23.8,42.5 24.6,40.8 C22,39.5 19,38.4 16.5,38.2 C14.5,39.5 11.5,39.6 11.2,37.4 C11.2,35.6 13.5,35 15.5,35.2 C16.8,35.1 18,34.6 18.5,34 C17.5,32.7 16.8,31.8 16.3,31.2 C12,29.6 8,28.6 4.2,28.1 C1.8,27.8 -0.2,26.5 0.7,23.9 Z" fill="#a98af6"/>
<circle cx="12.8" cy="18.4" r="1.9" fill="#fff"/>
<path d="M28.6,33.2 C28.2,36.5 26.5,39.2 24.4,41" fill="none" stroke="#fff" stroke-width="1.3"/>
<path d="M56.5,49.7 L73,49.7 C80.5,49.7 86.6,46 86.6,39.6 C86.6,35.5 85.8,33 84.6,31.2" fill="none" stroke="#a98af6" stroke-width="2.3" stroke-linecap="round"/>
</g>
<g transform="translate(450.00,1044.60) scale(1.0)">
<circle cx="26.8" cy="5.6" r="5.7" fill="#a98af6"/>
<path d="M0.7,23.9 C2.5,19 9,11 16.5,9 L21.5,8.3 C26,10.5 30,10.8 34,10.8 C46,10.5 56,18.5 58.4,32 C59.6,40 57.8,47 52.5,50.8 L21.5,50.8 C19,50.8 18.6,47 21.5,46.6 L25.2,46.6 C23.8,44.5 23.8,42.5 24.6,40.8 C22,39.5 19,38.4 16.5,38.2 C14.5,39.5 11.5,39.6 11.2,37.4 C11.2,35.6 13.5,35 15.5,35.2 C16.8,35.1 18,34.6 18.5,34 C17.5,32.7 16.8,31.8 16.3,31.2 C12,29.6 8,28.6 4.2,28.1 C1.8,27.8 -0.2,26.5 0.7,23.9 Z" fill="#a98af6"/>
<circle cx="12.8" cy="18.4" r="1.9" fill="#fff"/>
<path d="M28.6,33.2 C28.2,36.5 26.5,39.2 24.4,41" fill="none" stroke="#fff" stroke-width="1.3"/>
<path d="M56.5,49.7 L73,49.7 C80.5,49.7 86.6,46 86.6,39.6 C86.6,35.5 85.8,33 84.6,31.2" fill="none" stroke="#a98af6" stroke-width="2.3" stroke-linecap="round"/>
</g>
<text x="43.80" y="1190.00" font-size="36.00" fill="#000" textLength="79.62" lengthAdjust="spacingAndGlyphs" style="">OVX</text>
<rect x="179.40" y="1155.00" width="201.60" height="78.00" fill="#fff" stroke="#8a8a8a" stroke-width="1.3"/>
<text x="189.24" y="1191.50" font-size="33.00" fill="#000" textLength="188.38" lengthAdjust="spacingAndGlyphs" style="">1µg EB (s.c)</text>
<text x="186.45" y="1225.30" font-size="33.00" fill="#000" textLength="191.01" lengthAdjust="spacingAndGlyphs" style="">every 4 days</text>
<line x1="174.00" y1="1240.70" x2="395.00" y2="1240.70" stroke="#000" stroke-width="6.2"/>
<path d="M394.00,1218.00 L441.60,1240.70 L394.00,1263.40 Z" fill="#000" stroke="none" stroke-width="0"/>
<text x="218.49" y="1279.50" font-size="30.00" fill="#000" textLength="111.13" lengthAdjust="spacingAndGlyphs" style="">6 weeks</text>
<text x="438.82" y="1168.00" font-size="36.00" fill="#000" textLength="79.00" lengthAdjust="spacingAndGlyphs" style="">OVX</text>
<text x="442.14" y="1205.00" font-size="36.00" fill="#000" textLength="81.76" lengthAdjust="spacingAndGlyphs" style="">+ EB</text>
<g transform="translate(62.00,1211.00) scale(1.0)">
<circle cx="26.8" cy="5.6" r="5.7" fill="#7a2fd2"/>
<path d="M0.7,23.9 C2.5,19 9,11 16.5,9 L21.5,8.3 C26,10.5 30,10.8 34,10.8 C46,10.5 56,18.5 58.4,32 C59.6,40 57.8,47 52.5,50.8 L21.5,50.8 C19,50.8 18.6,47 21.5,46.6 L25.2,46.6 C23.8,44.5 23.8,42.5 24.6,40.8 C22,39.5 19,38.4 16.5,38.2 C14.5,39.5 11.5,39.6 11.2,37.4 C11.2,35.6 13.5,35 15.5,35.2 C16.8,35.1 18,34.6 18.5,34 C17.5,32.7 16.8,31.8 16.3,31.2 C12,29.6 8,28.6 4.2,28.1 C1.8,27.8 -0.2,26.5 0.7,23.9 Z" fill="#7a2fd2"/>
<circle cx="12.8" cy="18.4" r="1.9" fill="#fff"/>
<path d="M28.6,33.2 C28.2,36.5 26.5,39.2 24.4,41" fill="none" stroke="#fff" stroke-width="1.3"/>
<path d="M56.5,49.7 L73,49.7 C80.5,49.7 86.6,46 86.6,39.6 C86.6,35.5 85.8,33 84.6,31.2" fill="none" stroke="#7a2fd2" stroke-width="2.3" stroke-linecap="round"/>
</g>
<g transform="translate(450.00,1211.00) scale(1.0)">
<circle cx="26.8" cy="5.6" r="5.7" fill="#7a2fd2"/>
<path d="M0.7,23.9 C2.5,19 9,11 16.5,9 L21.5,8.3 C26,10.5 30,10.8 34,10.8 C46,10.5 56,18.5 58.4,32 C59.6,40 57.8,47 52.5,50.8 L21.5,50.8 C19,50.8 18.6,47 21.5,46.6 L25.2,46.6 C23.8,44.5 23.8,42.5 24.6,40.8 C22,39.5 19,38.4 16.5,38.2 C14.5,39.5 11.5,39.6 11.2,37.4 C11.2,35.6 13.5,35 15.5,35.2 C16.8,35.1 18,34.6 18.5,34 C17.5,32.7 16.8,31.8 16.3,31.2 C12,29.6 8,28.6 4.2,28.1 C1.8,27.8 -0.2,26.5 0.7,23.9 Z" fill="#7a2fd2"/>
<circle cx="12.8" cy="18.4" r="1.9" fill="#fff"/>
<path d="M28.6,33.2 C28.2,36.5 26.5,39.2 24.4,41" fill="none" stroke="#fff" stroke-width="1.3"/>
<path d="M56.5,49.7 L73,49.7 C80.5,49.7 86.6,46 86.6,39.6 C86.6,35.5 85.8,33 84.6,31.2" fill="none" stroke="#7a2fd2" stroke-width="2.3" stroke-linecap="round"/>
</g>
<line x1="903.20" y1="891.50" x2="903.20" y2="910.50" stroke="#222" stroke-width="2.6"/>
<rect x="854.80" y="910.50" width="96.80" height="53.10" fill="#c15bd6" stroke="#333" stroke-width="2.6"/>
<line x1="854.80" y1="962.00" x2="951.60" y2="962.00" stroke="#333" stroke-width="5.5"/>
<circle cx="903.20" cy="891.50" r="3.30" fill="#000" stroke="#000" stroke-width="1.2"/>
<circle cx="903.20" cy="910.50" r="3.30" fill="#000" stroke="#000" stroke-width="1.2"/>
<circle cx="903.20" cy="963.60" r="3.30" fill="#000" stroke="#000" stroke-width="1.2"/>
<line x1="1030.50" y1="1065.50" x2="1030.50" y2="1077.00" stroke="#222" stroke-width="2.6"/>
<line x1="1030.50" y1="1133.00" x2="1030.50" y2="1142.00" stroke="#222" stroke-width="2.6"/>
<rect x="982.50" y="1077.00" width="96.00" height="56.00" fill="#b49afd" stroke="#333" stroke-width="2.6"/>
<line x1="982.50" y1="1092.90" x2="1078.50" y2="1092.90" stroke="#333" stroke-width="5.5"/>
<circle cx="1030.50" cy="1065.50" r="3.30" fill="#000" stroke="#000" stroke-width="1.2"/>
<circle cx="1030.50" cy="1068.00" r="3.30" fill="#000" stroke="#000" stroke-width="1.2"/>
<circle cx="1030.50" cy="1080.40" r="3.30" fill="#000" stroke="#000" stroke-width="1.2"/>
<circle cx="1030.50" cy="1088.70" r="3.30" fill="#000" stroke="#000" stroke-width="1.2"/>
<circle cx="1030.50" cy="1097.80" r="3.30" fill="#000" stroke="#000" stroke-width="1.2"/>
<circle cx="1030.50" cy="1131.00" r="3.30" fill="#000" stroke="#000" stroke-width="1.2"/>
<circle cx="1030.50" cy="1137.20" r="3.30" fill="#000" stroke="#000" stroke-width="1.2"/>
<circle cx="1030.50" cy="1142.20" r="3.30" fill="#000" stroke="#000" stroke-width="1.2"/>
<line x1="1158.10" y1="876.00" x2="1158.10" y2="930.00" stroke="#222" stroke-width="2.6"/>
<line x1="1158.10" y1="998.40" x2="1158.10" y2="1077.00" stroke="#222" stroke-width="2.6"/>
<rect x="1110.00" y="930.00" width="96.20" height="68.40" fill="#6b36a8" stroke="#333" stroke-width="2.6"/>
<line x1="1110.00" y1="963.20" x2="1206.20" y2="963.20" stroke="#333" stroke-width="5.5"/>
<circle cx="1158.10" cy="876.10" r="3.30" fill="#000" stroke="#000" stroke-width="1.2"/>
<circle cx="1158.10" cy="918.40" r="3.30" fill="#000" stroke="#000" stroke-width="1.2"/>
<circle cx="1158.10" cy="934.10" r="3.30" fill="#000" stroke="#000" stroke-width="1.2"/>
<circle cx="1158.10" cy="951.50" r="3.30" fill="#000" stroke="#000" stroke-width="1.2"/>
<circle cx="1158.10" cy="974.30" r="3.30" fill="#000" stroke="#000" stroke-width="1.2"/>
<circle cx="1158.10" cy="990.10" r="3.30" fill="#000" stroke="#000" stroke-width="1.2"/>
<circle cx="1158.10" cy="1024.50" r="3.30" fill="#000" stroke="#000" stroke-width="1.2"/>
<circle cx="1158.10" cy="1077.10" r="3.30" fill="#000" stroke="#000" stroke-width="1.2"/>
<line x1="826.60" y1="809.80" x2="826.60" y2="1238.00" stroke="#000" stroke-width="2.6"/>
<line x1="825.30" y1="1236.70" x2="1234.00" y2="1236.70" stroke="#000" stroke-width="2.6"/>
<line x1="903.20" y1="1236.70" x2="903.20" y2="1243.70" stroke="#333" stroke-width="2.6"/>
<line x1="1030.50" y1="1236.70" x2="1030.50" y2="1243.70" stroke="#333" stroke-width="2.6"/>
<line x1="1158.10" y1="1236.70" x2="1158.10" y2="1243.70" stroke="#333" stroke-width="2.6"/>
<line x1="819.60" y1="874.30" x2="826.60" y2="874.30" stroke="#333" stroke-width="2.6"/>
<text x="762.70" y="887.81" font-size="38.60" fill="#000" textLength="53.66" lengthAdjust="spacingAndGlyphs" style="">2.0</text>
<line x1="819.60" y1="988.50" x2="826.60" y2="988.50" stroke="#333" stroke-width="2.6"/>
<text x="762.89" y="1002.01" font-size="38.60" fill="#000" textLength="53.66" lengthAdjust="spacingAndGlyphs" style="">1.5</text>
<line x1="819.60" y1="1102.80" x2="826.60" y2="1102.80" stroke="#333" stroke-width="2.6"/>
<text x="762.70" y="1116.31" font-size="38.60" fill="#000" textLength="53.66" lengthAdjust="spacingAndGlyphs" style="">1.0</text>
<line x1="819.60" y1="1217.20" x2="826.60" y2="1217.20" stroke="#333" stroke-width="2.6"/>
<text x="762.89" y="1230.71" font-size="38.60" fill="#000" textLength="53.66" lengthAdjust="spacingAndGlyphs" style="">0.5</text>
<text x="864.27" y="1276.10" font-size="39.50" fill="#000" textLength="62.79" lengthAdjust="spacingAndGlyphs" style="">Pro</text>
<text x="988.20" y="1279.00" font-size="39.50" fill="#000" textLength="84.27" lengthAdjust="spacingAndGlyphs" style="">OVX</text>
<text x="985.23" y="1318.90" font-size="39.50" fill="#000" textLength="101.77" lengthAdjust="spacingAndGlyphs" style="">+ Veh</text>
<text x="1123.10" y="1283.50" font-size="39.50" fill="#000" textLength="84.37" lengthAdjust="spacingAndGlyphs" style="">OVX</text>
<text x="1128.04" y="1322.20" font-size="39.50" fill="#000" textLength="86.16" lengthAdjust="spacingAndGlyphs" style="">+ EB</text>
<text x="986.71" y="792.00" font-size="43.00" fill="#000" textLength="94.82" lengthAdjust="spacingAndGlyphs" style="">Egr1</text>
<text transform="translate(732.45,1266.90) rotate(-90)" x="0" y="0" font-size="42.00" fill="#000" textLength="463.86" lengthAdjust="spacingAndGlyphs" style="">Relative gene expression</text>
<polyline points="903.20,860.80 903.20,845.00 1030.50,845.00 1030.50,885.00" stroke="#000" stroke-width="2.2" fill="none" stroke-linejoin="miter"/>
<polyline points="1030.50,854.00 1157.50,854.00 1157.50,862.70" stroke="#000" stroke-width="2.2" fill="none" stroke-linejoin="miter"/>
<text x="936.29" y="856.53" font-size="46.57" fill="#000" textLength="18.40" lengthAdjust="spacingAndGlyphs" style="">*</text>
<text x="957.23" y="856.53" font-size="46.57" fill="#000" textLength="18.40" lengthAdjust="spacingAndGlyphs" style="">*</text>
<text x="978.17" y="856.53" font-size="46.57" fill="#000" textLength="18.40" lengthAdjust="spacingAndGlyphs" style="">*</text>
<text x="1066.20" y="864.25" font-size="44.86" fill="#000" textLength="18.15" lengthAdjust="spacingAndGlyphs" style="">*</text>
<text x="1086.85" y="864.25" font-size="44.86" fill="#000" textLength="18.15" lengthAdjust="spacingAndGlyphs" style="">*</text>
<text x="1107.51" y="864.25" font-size="44.86" fill="#000" textLength="18.15" lengthAdjust="spacingAndGlyphs" style="">*</text>
<rect x="1548.50" y="951.50" width="94.40" height="8.50" fill="#c15bd6" stroke="#333" stroke-width="2.2"/>
<line x1="1548.50" y1="954.80" x2="1642.90" y2="954.80" stroke="#333" stroke-width="3.6"/>
<circle cx="1595.70" cy="951.50" r="3.30" fill="#000" stroke="#000" stroke-width="1.2"/>
<circle cx="1595.70" cy="959.00" r="3.30" fill="#000" stroke="#000" stroke-width="1.2"/>
<circle cx="1595.70" cy="930.00" r="4.60" fill="#000" stroke="none" stroke-width="0"/>
<line x1="1720.50" y1="1115.80" x2="1720.50" y2="1128.60" stroke="#222" stroke-width="2.6"/>
<line x1="1720.50" y1="1153.60" x2="1720.50" y2="1169.60" stroke="#222" stroke-width="2.6"/>
<rect x="1673.30" y="1128.60" width="94.40" height="25.00" fill="#b49afd" stroke="#333" stroke-width="2.6"/>
<line x1="1673.30" y1="1134.50" x2="1767.70" y2="1134.50" stroke="#333" stroke-width="5.5"/>
<circle cx="1720.50" cy="1115.80" r="3.30" fill="#000" stroke="#000" stroke-width="1.2"/>
<circle cx="1720.50" cy="1123.00" r="3.30" fill="#000" stroke="#000" stroke-width="1.2"/>
<circle cx="1720.50" cy="1127.80" r="3.30" fill="#000" stroke="#000" stroke-width="1.2"/>
<circle cx="1720.50" cy="1133.70" r="3.30" fill="#000" stroke="#000" stroke-width="1.2"/>
<circle cx="1720.50" cy="1137.70" r="3.30" fill="#000" stroke="#000" stroke-width="1.2"/>
<circle cx="1720.50" cy="1153.60" r="3.30" fill="#000" stroke="#000" stroke-width="1.2"/>
<circle cx="1720.50" cy="1169.60" r="3.30" fill="#000" stroke="#000" stroke-width="1.2"/>
<line x1="1845.20" y1="989.70" x2="1845.20" y2="1011.00" stroke="#222" stroke-width="2.6"/>
<line x1="1845.20" y1="1045.00" x2="1845.20" y2="1074.80" stroke="#222" stroke-width="2.6"/>
<rect x="1797.90" y="1011.00" width="94.60" height="34.00" fill="#6b36a8" stroke="#333" stroke-width="2.6"/>
<line x1="1797.90" y1="1035.50" x2="1892.50" y2="1035.50" stroke="#333" stroke-width="5.5"/>
<circle cx="1845.20" cy="989.70" r="3.30" fill="#000" stroke="#000" stroke-width="1.2"/>
<circle cx="1845.20" cy="1005.60" r="3.30" fill="#000" stroke="#000" stroke-width="1.2"/>
<circle cx="1845.20" cy="1013.60" r="3.30" fill="#000" stroke="#000" stroke-width="1.2"/>
<circle cx="1845.20" cy="1031.50" r="3.30" fill="#000" stroke="#000" stroke-width="1.2"/>
<circle cx="1845.20" cy="1035.50" r="3.30" fill="#000" stroke="#000" stroke-width="1.2"/>
<circle cx="1845.20" cy="1041.40" r="3.30" fill="#000" stroke="#000" stroke-width="1.2"/>
<circle cx="1845.20" cy="1052.20" r="3.30" fill="#000" stroke="#000" stroke-width="1.2"/>
<circle cx="1845.20" cy="1074.80" r="3.30" fill="#000" stroke="#000" stroke-width="1.2"/>
<line x1="1520.90" y1="835.30" x2="1520.90" y2="1263.20" stroke="#000" stroke-width="2.6"/>
<line x1="1519.60" y1="1261.90" x2="1919.60" y2="1261.90" stroke="#000" stroke-width="2.6"/>
<line x1="1595.70" y1="1261.90" x2="1595.70" y2="1268.90" stroke="#333" stroke-width="2.6"/>
<line x1="1720.50" y1="1261.90" x2="1720.50" y2="1268.90" stroke="#333" stroke-width="2.6"/>
<line x1="1845.20" y1="1261.90" x2="1845.20" y2="1268.90" stroke="#333" stroke-width="2.6"/>
<line x1="1513.90" y1="837.60" x2="1520.90" y2="837.60" stroke="#333" stroke-width="2.6"/>
<text x="1441.81" y="851.43" font-size="39.50" fill="#000" textLength="65.91" lengthAdjust="spacingAndGlyphs" style="">125</text>
<line x1="1513.90" y1="934.10" x2="1520.90" y2="934.10" stroke="#333" stroke-width="2.6"/>
<text x="1441.62" y="947.93" font-size="39.50" fill="#000" textLength="65.91" lengthAdjust="spacingAndGlyphs" style="">100</text>
<line x1="1513.90" y1="1030.60" x2="1520.90" y2="1030.60" stroke="#333" stroke-width="2.6"/>
<text x="1463.74" y="1044.42" font-size="39.50" fill="#000" textLength="43.94" lengthAdjust="spacingAndGlyphs" style="">75</text>
<line x1="1513.90" y1="1127.10" x2="1520.90" y2="1127.10" stroke="#333" stroke-width="2.6"/>
<text x="1463.54" y="1140.92" font-size="39.50" fill="#000" textLength="43.94" lengthAdjust="spacingAndGlyphs" style="">50</text>
<line x1="1513.90" y1="1223.60" x2="1520.90" y2="1223.60" stroke="#333" stroke-width="2.6"/>
<text x="1463.74" y="1237.42" font-size="39.50" fill="#000" textLength="43.94" lengthAdjust="spacingAndGlyphs" style="">25</text>
<text x="1560.38" y="1304.50" font-size="40.50" fill="#000" textLength="62.68" lengthAdjust="spacingAndGlyphs" style="">Pro</text>
<text x="1678.22" y="1307.90" font-size="40.50" fill="#000" textLength="83.65" lengthAdjust="spacingAndGlyphs" style="">OVX</text>
<text x="1675.23" y="1347.20" font-size="40.50" fill="#000" textLength="101.77" lengthAdjust="spacingAndGlyphs" style="">+ Veh</text>
<text x="1801.02" y="1311.20" font-size="40.50" fill="#000" textLength="83.65" lengthAdjust="spacingAndGlyphs" style="">OVX</text>
<text x="1805.33" y="1350.60" font-size="40.50" fill="#000" textLength="86.47" lengthAdjust="spacingAndGlyphs" style="">+ EB</text>
<text x="1600.94" y="800.00" font-size="44.00" fill="#000" textLength="224.12" lengthAdjust="spacingAndGlyphs" style="">Open Field</text>
<text transform="translate(1422.45,1221.83) rotate(-90)" x="0" y="0" font-size="42.00" fill="#000" textLength="319.40" lengthAdjust="spacingAndGlyphs" style="">Time in centre (s)</text>
<polyline points="1595.70,889.00 1595.70,879.80 1845.20,879.80 1845.20,889.00" stroke="#000" stroke-width="2.2" fill="none" stroke-linejoin="miter"/>
<polyline points="1595.70,915.00 1595.70,907.20 1722.00,907.20 1722.00,942.00" stroke="#000" stroke-width="2.2" fill="none" stroke-linejoin="miter"/>
<polyline points="1722.00,917.80 1845.20,917.80 1845.20,942.00" stroke="#000" stroke-width="2.2" fill="none" stroke-linejoin="miter"/>
<text x="1694.90" y="889.45" font-size="44.86" fill="#000" textLength="18.15" lengthAdjust="spacingAndGlyphs" style="">*</text>
<text x="1715.55" y="889.45" font-size="44.86" fill="#000" textLength="18.15" lengthAdjust="spacingAndGlyphs" style="">*</text>
<text x="1736.21" y="889.45" font-size="44.86" fill="#000" textLength="18.15" lengthAdjust="spacingAndGlyphs" style="">*</text>
<text x="1628.60" y="919.44" font-size="46.29" fill="#000" textLength="18.28" lengthAdjust="spacingAndGlyphs" style="">*</text>
<text x="1649.39" y="919.44" font-size="46.29" fill="#000" textLength="18.28" lengthAdjust="spacingAndGlyphs" style="">*</text>
<text x="1670.19" y="919.44" font-size="46.29" fill="#000" textLength="18.28" lengthAdjust="spacingAndGlyphs" style="">*</text>
<text x="1761.00" y="929.44" font-size="46.29" fill="#000" textLength="18.09" lengthAdjust="spacingAndGlyphs" style="">*</text>
<text x="1781.59" y="929.44" font-size="46.29" fill="#000" textLength="18.09" lengthAdjust="spacingAndGlyphs" style="">*</text>
<text x="1802.17" y="929.44" font-size="46.29" fill="#000" textLength="18.09" lengthAdjust="spacingAndGlyphs" style="">*</text>
<text x="62.31" y="1493.8" font-size="37.5" fill="#000" textLength="100.35" lengthAdjust="spacingAndGlyphs">hSyn-</text>
<text x="162.66" y="1493.8" font-size="37.5" fill="#ee1f14" textLength="81.15" lengthAdjust="spacingAndGlyphs">Egr1</text>
<text x="243.81" y="1493.8" font-size="37.5" fill="#000" textLength="115.25" lengthAdjust="spacingAndGlyphs">-IRES-</text>
<text x="359.06" y="1493.8" font-size="37.5" fill="#3db53a" textLength="100.33" lengthAdjust="spacingAndGlyphs">eGFP</text>
<text x="148.30" y="1538.7" font-size="37.5" fill="#000" textLength="100.81" lengthAdjust="spacingAndGlyphs">hSyn-</text>
<text x="249.11" y="1538.7" font-size="37.5" fill="#3db53a" textLength="100.79" lengthAdjust="spacingAndGlyphs">eGFP</text>
<path d="M240.60,1592.00 C240.25,1590.83 239.93,1586.75 238.50,1585.00 C237.07,1583.25 235.20,1582.23 232.00,1581.50 C228.80,1580.77 225.85,1580.23 219.30,1580.60 C212.75,1580.97 201.58,1581.70 192.70,1583.70 C183.82,1585.70 174.88,1588.75 166.00,1592.60 C157.12,1596.45 147.38,1601.47 139.40,1606.80 C131.42,1612.13 123.72,1618.40 118.10,1624.60 C112.48,1630.80 108.52,1637.48 105.70,1644.00 C102.88,1650.52 101.73,1658.37 101.20,1663.70 C100.67,1669.03 101.57,1671.95 102.50,1676.00 C103.43,1680.05 105.80,1684.00 106.80,1688.00 C107.80,1692.00 107.88,1696.00 108.50,1700.00 C109.12,1704.00 108.90,1707.67 110.50,1712.00 C112.10,1716.33 114.77,1721.17 118.10,1726.00 C121.43,1730.83 126.07,1736.83 130.50,1741.00 C134.93,1745.17 139.78,1748.83 144.70,1751.00 C149.62,1753.17 155.45,1753.92 160.00,1754.00 C164.55,1754.08 168.50,1752.92 172.00,1751.50 C175.50,1750.08 178.43,1747.70 181.00,1745.50 C183.57,1743.30 185.15,1740.07 187.40,1738.30 C189.65,1736.53 190.65,1734.90 194.50,1734.90 C198.35,1734.90 205.18,1736.85 210.50,1738.30 C215.82,1739.75 221.02,1742.38 226.40,1743.60 C231.78,1744.82 237.32,1745.60 242.80,1745.60 C248.28,1745.60 253.90,1744.82 259.30,1743.60 C264.70,1742.38 269.88,1739.75 275.20,1738.30 C280.52,1736.85 287.35,1734.90 291.20,1734.90 C295.05,1734.90 296.05,1736.53 298.30,1738.30 C300.55,1740.07 302.13,1743.30 304.70,1745.50 C307.27,1747.70 310.20,1750.08 313.70,1751.50 C317.20,1752.92 321.15,1754.08 325.70,1754.00 C330.25,1753.92 336.08,1753.17 341.00,1751.00 C345.92,1748.83 350.77,1745.17 355.20,1741.00 C359.63,1736.83 364.27,1730.83 367.60,1726.00 C370.93,1721.17 373.60,1716.33 375.20,1712.00 C376.80,1707.67 376.58,1704.00 377.20,1700.00 C377.82,1696.00 377.90,1692.00 378.90,1688.00 C379.90,1684.00 382.27,1680.05 383.20,1676.00 C384.13,1671.95 385.03,1669.03 384.50,1663.70 C383.97,1658.37 382.82,1650.52 380.00,1644.00 C377.18,1637.48 373.22,1630.80 367.60,1624.60 C361.98,1618.40 354.28,1612.13 346.30,1606.80 C338.32,1601.47 328.58,1596.45 319.70,1592.60 C310.82,1588.75 301.88,1585.70 293.00,1583.70 C284.12,1581.70 272.95,1580.97 266.40,1580.60 C259.85,1580.23 256.90,1580.77 253.70,1581.50 C250.50,1582.23 248.63,1583.25 247.20,1585.00 C245.77,1586.75 245.45,1590.83 245.10,1592.00 L245.10,1592 L244.1,1627 L242.85,1631 L241.6,1627 Z" fill="#d9d9d9" stroke="none" stroke-width="0"/>
<path d="M235.00,1632.00 C232.50,1631.25 225.83,1628.00 220.00,1627.50 C214.17,1627.00 206.67,1628.42 200.00,1629.00 C193.33,1629.58 186.67,1629.83 180.00,1631.00 C173.33,1632.17 165.67,1633.50 160.00,1636.00 C154.33,1638.50 149.67,1641.67 146.00,1646.00 C142.33,1650.33 139.58,1656.33 138.00,1662.00 C136.42,1667.67 136.33,1674.00 136.50,1680.00 C136.67,1686.00 137.42,1692.33 139.00,1698.00 C140.58,1703.67 142.83,1709.00 146.00,1714.00 C149.17,1719.00 153.67,1724.00 158.00,1728.00 C162.33,1732.00 167.33,1735.58 172.00,1738.00 C176.67,1740.42 182.25,1742.92 186.00,1742.50 C189.75,1742.08 190.42,1736.12 194.50,1735.50 C198.58,1734.88 205.18,1737.38 210.50,1738.80 C215.82,1740.22 221.02,1742.88 226.40,1744.00 C231.78,1745.12 237.32,1745.50 242.80,1745.50 C248.28,1745.50 253.90,1745.12 259.30,1744.00 C264.70,1742.88 269.88,1740.22 275.20,1738.80 C280.52,1737.38 287.12,1734.88 291.20,1735.50 C295.28,1736.12 295.95,1742.08 299.70,1742.50 C303.45,1742.92 309.03,1740.42 313.70,1738.00 C318.37,1735.58 323.37,1732.00 327.70,1728.00 C332.03,1724.00 336.53,1719.00 339.70,1714.00 C342.87,1709.00 345.12,1703.67 346.70,1698.00 C348.28,1692.33 349.03,1686.00 349.20,1680.00 C349.37,1674.00 349.28,1667.67 347.70,1662.00 C346.12,1656.33 343.37,1650.33 339.70,1646.00 C336.03,1641.67 331.37,1638.50 325.70,1636.00 C320.03,1633.50 312.37,1632.17 305.70,1631.00 C299.03,1629.83 292.37,1629.58 285.70,1629.00 C279.03,1628.42 271.53,1627.00 265.70,1627.50 C259.87,1628.00 253.20,1631.25 250.70,1632.00 Z" fill="#ebebeb" stroke="none" stroke-width="0"/>
<path d="M170.00,1631.00 C172.50,1630.00 179.17,1626.75 185.00,1625.00 C190.83,1623.25 200.17,1621.50 205.00,1620.50 C209.83,1619.50 212.58,1618.42 214.00,1619.00 C215.42,1619.58 214.17,1622.58 213.50,1624.00 C212.83,1625.42 209.92,1626.58 210.00,1627.50 C210.08,1628.42 215.67,1629.08 214.00,1629.50 C212.33,1629.92 204.83,1629.50 200.00,1630.00 C195.17,1630.50 189.67,1631.50 185.00,1632.50 C180.33,1633.50 174.17,1635.42 172.00,1636.00 Z" fill="#e9e9e9" stroke="none" stroke-width="0"/>
<path d="M315.70,1631.00 C313.20,1630.00 306.53,1626.75 300.70,1625.00 C294.87,1623.25 285.53,1621.50 280.70,1620.50 C275.87,1619.50 273.12,1618.42 271.70,1619.00 C270.28,1619.58 271.53,1622.58 272.20,1624.00 C272.87,1625.42 275.78,1626.58 275.70,1627.50 C275.62,1628.42 270.03,1629.08 271.70,1629.50 C273.37,1629.92 280.87,1629.50 285.70,1630.00 C290.53,1630.50 296.03,1631.50 300.70,1632.50 C305.37,1633.50 311.53,1635.42 313.70,1636.00 Z" fill="#e9e9e9" stroke="none" stroke-width="0"/>
<path d="M242.80,1632.50 C241.00,1632.58 236.63,1632.42 232.00,1633.00 C227.37,1633.58 220.33,1634.50 215.00,1636.00 C209.67,1637.50 204.17,1639.67 200.00,1642.00 C195.83,1644.33 192.83,1646.67 190.00,1650.00 C187.17,1653.33 184.83,1657.33 183.00,1662.00 C181.17,1666.67 179.33,1672.33 179.00,1678.00 C178.67,1683.67 179.83,1690.33 181.00,1696.00 C182.17,1701.67 184.00,1707.00 186.00,1712.00 C188.00,1717.00 190.17,1722.00 193.00,1726.00 C195.83,1730.00 199.17,1733.50 203.00,1736.00 C206.83,1738.50 211.50,1739.67 216.00,1741.00 C220.50,1742.33 225.53,1743.33 230.00,1744.00 C234.47,1744.67 238.52,1745.00 242.80,1745.00 C247.08,1745.00 251.22,1744.67 255.70,1744.00 C260.18,1743.33 265.20,1742.33 269.70,1741.00 C274.20,1739.67 278.87,1738.50 282.70,1736.00 C286.53,1733.50 289.87,1730.00 292.70,1726.00 C295.53,1722.00 297.70,1717.00 299.70,1712.00 C301.70,1707.00 303.53,1701.67 304.70,1696.00 C305.87,1690.33 307.03,1683.67 306.70,1678.00 C306.37,1672.33 304.53,1666.67 302.70,1662.00 C300.87,1657.33 298.53,1653.33 295.70,1650.00 C292.87,1646.67 289.87,1644.33 285.70,1642.00 C281.53,1639.67 276.03,1637.50 270.70,1636.00 C265.37,1634.50 258.33,1633.58 253.70,1633.00 C249.07,1632.42 244.70,1632.58 242.90,1632.50 Z" fill="#e2e2e2" stroke="#f3f3f3" stroke-width="1.6"/>
<path d="M207.00,1693.00 C208.17,1694.50 211.50,1700.83 214.00,1702.00 C216.50,1703.17 220.67,1700.33 222.00,1700.00" fill="none" stroke="#f0f0f0" stroke-width="1.6"/>
<path d="M225.00,1670.00 C225.67,1671.67 228.33,1678.33 229.00,1680.00" fill="none" stroke="#f0f0f0" stroke-width="1.6"/>
<path d="M221.00,1725.00 C222.33,1726.00 226.50,1730.33 229.00,1731.00 C231.50,1731.67 234.83,1729.33 236.00,1729.00" fill="none" stroke="#f0f0f0" stroke-width="1.6"/>
<path d="M278.70,1693.00 C277.53,1694.50 274.20,1700.83 271.70,1702.00 C269.20,1703.17 265.03,1700.33 263.70,1700.00" fill="none" stroke="#f0f0f0" stroke-width="1.6"/>
<path d="M260.70,1670.00 C260.03,1671.67 257.37,1678.33 256.70,1680.00" fill="none" stroke="#f0f0f0" stroke-width="1.6"/>
<path d="M264.70,1725.00 C263.37,1726.00 259.20,1730.33 256.70,1731.00 C254.20,1731.67 250.87,1729.33 249.70,1729.00" fill="none" stroke="#f0f0f0" stroke-width="1.6"/>
<path d="M232,1660 C238,1655 248,1655 254,1660" fill="none" stroke="#f0f0f0" stroke-width="2"/>
<path d="M155.00,1645.50 C153.33,1647.42 147.57,1652.58 145.00,1657.00 C142.43,1661.42 140.55,1666.50 139.60,1672.00 C138.65,1677.50 138.65,1684.17 139.30,1690.00 C139.95,1695.83 141.38,1701.67 143.50,1707.00 C145.62,1712.33 148.58,1717.58 152.00,1722.00 C155.42,1726.42 160.00,1730.42 164.00,1733.50 C168.00,1736.58 172.83,1738.83 176.00,1740.50 C179.17,1742.17 181.83,1743.00 183.00,1743.50" fill="none" stroke="#a4a4a4" stroke-width="5.2" stroke-linecap="round"/>
<path d="M193.50,1646.50 C191.75,1647.25 186.58,1648.92 183.00,1651.00 C179.42,1653.08 175.00,1656.17 172.00,1659.00 C169.00,1661.83 166.92,1664.67 165.00,1668.00 C163.08,1671.33 161.50,1675.33 160.50,1679.00 C159.50,1682.67 159.25,1688.17 159.00,1690.00" fill="none" stroke="#9c9c9c" stroke-width="2.0" stroke-linecap="round"/>
<path d="M148.00,1751.50 C150.00,1751.42 156.00,1751.50 160.00,1751.00 C164.00,1750.50 170.00,1748.92 172.00,1748.50" fill="none" stroke="#a9a9a9" stroke-width="3.2" stroke-linecap="round"/>
<path d="M330.70,1645.50 C332.37,1647.42 338.13,1652.58 340.70,1657.00 C343.27,1661.42 345.15,1666.50 346.10,1672.00 C347.05,1677.50 347.05,1684.17 346.40,1690.00 C345.75,1695.83 344.32,1701.67 342.20,1707.00 C340.08,1712.33 337.12,1717.58 333.70,1722.00 C330.28,1726.42 325.70,1730.42 321.70,1733.50 C317.70,1736.58 312.87,1738.83 309.70,1740.50 C306.53,1742.17 303.87,1743.00 302.70,1743.50" fill="none" stroke="#a4a4a4" stroke-width="5.2" stroke-linecap="round"/>
<path d="M292.20,1646.50 C293.95,1647.25 299.12,1648.92 302.70,1651.00 C306.28,1653.08 310.70,1656.17 313.70,1659.00 C316.70,1661.83 318.78,1664.67 320.70,1668.00 C322.62,1671.33 324.20,1675.33 325.20,1679.00 C326.20,1682.67 326.45,1688.17 326.70,1690.00" fill="none" stroke="#9c9c9c" stroke-width="2.0" stroke-linecap="round"/>
<path d="M337.70,1751.50 C335.70,1751.42 329.70,1751.50 325.70,1751.00 C321.70,1750.50 315.70,1748.92 313.70,1748.50" fill="none" stroke="#a9a9a9" stroke-width="3.2" stroke-linecap="round"/>
<path d="M240.60,1592.00 C240.25,1590.83 239.93,1586.75 238.50,1585.00 C237.07,1583.25 235.20,1582.23 232.00,1581.50 C228.80,1580.77 225.85,1580.23 219.30,1580.60 C212.75,1580.97 201.58,1581.70 192.70,1583.70 C183.82,1585.70 174.88,1588.75 166.00,1592.60 C157.12,1596.45 147.38,1601.47 139.40,1606.80 C131.42,1612.13 123.72,1618.40 118.10,1624.60 C112.48,1630.80 108.52,1637.48 105.70,1644.00 C102.88,1650.52 101.73,1658.37 101.20,1663.70 C100.67,1669.03 101.57,1671.95 102.50,1676.00 C103.43,1680.05 105.80,1684.00 106.80,1688.00 C107.80,1692.00 107.88,1696.00 108.50,1700.00 C109.12,1704.00 108.90,1707.67 110.50,1712.00 C112.10,1716.33 114.77,1721.17 118.10,1726.00 C121.43,1730.83 126.07,1736.83 130.50,1741.00 C134.93,1745.17 139.78,1748.83 144.70,1751.00 C149.62,1753.17 155.45,1753.92 160.00,1754.00 C164.55,1754.08 168.50,1752.92 172.00,1751.50 C175.50,1750.08 178.43,1747.70 181.00,1745.50 C183.57,1743.30 185.15,1740.07 187.40,1738.30 C189.65,1736.53 190.65,1734.90 194.50,1734.90 C198.35,1734.90 205.18,1736.85 210.50,1738.30 C215.82,1739.75 221.02,1742.38 226.40,1743.60 C231.78,1744.82 237.32,1745.60 242.80,1745.60 C248.28,1745.60 253.90,1744.82 259.30,1743.60 C264.70,1742.38 269.88,1739.75 275.20,1738.30 C280.52,1736.85 287.35,1734.90 291.20,1734.90 C295.05,1734.90 296.05,1736.53 298.30,1738.30 C300.55,1740.07 302.13,1743.30 304.70,1745.50 C307.27,1747.70 310.20,1750.08 313.70,1751.50 C317.20,1752.92 321.15,1754.08 325.70,1754.00 C330.25,1753.92 336.08,1753.17 341.00,1751.00 C345.92,1748.83 350.77,1745.17 355.20,1741.00 C359.63,1736.83 364.27,1730.83 367.60,1726.00 C370.93,1721.17 373.60,1716.33 375.20,1712.00 C376.80,1707.67 376.58,1704.00 377.20,1700.00 C377.82,1696.00 377.90,1692.00 378.90,1688.00 C379.90,1684.00 382.27,1680.05 383.20,1676.00 C384.13,1671.95 385.03,1669.03 384.50,1663.70 C383.97,1658.37 382.82,1650.52 380.00,1644.00 C377.18,1637.48 373.22,1630.80 367.60,1624.60 C361.98,1618.40 354.28,1612.13 346.30,1606.80 C338.32,1601.47 328.58,1596.45 319.70,1592.60 C310.82,1588.75 301.88,1585.70 293.00,1583.70 C284.12,1581.70 272.95,1580.97 266.40,1580.60 C259.85,1580.23 256.90,1580.77 253.70,1581.50 C250.50,1582.23 248.63,1583.25 247.20,1585.00 C245.77,1586.75 245.45,1590.83 245.10,1592.00 L245.10,1592 L244.1,1627 L242.85,1631 L241.6,1627 Z" fill="none" stroke="#9a9a9a" stroke-width="1.5"/>
<path d="M242.85,1631 C240,1636 239.5,1641 242.85,1645 C246.2,1641 245.7,1636 242.85,1631 Z" fill="#f6f6f6" stroke="#999" stroke-width="1.1"/>
<circle cx="242.85" cy="1672.00" r="1.50" fill="#f4f4f4" stroke="#999" stroke-width="0.9"/>
<line x1="242.85" y1="1674.00" x2="242.85" y2="1690.00" stroke="#9a9a9a" stroke-width="1.0"/>
<path d="M155.40,1558 L174.00,1558 L174.00,1578 C174.00,1586 167.70,1588 167.70,1596 L166.50,1706 L162.90,1706 L161.70,1596 C161.70,1588 155.40,1586 155.40,1578 Z" fill="rgba(228,233,237,0.72)" stroke="#b2bac0" stroke-width="1.0"/>
<line x1="164.70" y1="1600.00" x2="164.70" y2="1703.00" stroke="rgba(200,208,214,0.8)" stroke-width="1.2"/>
<path d="M311.70,1558 L330.30,1558 L330.30,1578 C330.30,1586 324.00,1588 324.00,1596 L322.80,1706 L319.20,1706 L318.00,1596 C318.00,1588 311.70,1586 311.70,1578 Z" fill="rgba(228,233,237,0.72)" stroke="#b2bac0" stroke-width="1.0"/>
<line x1="321.00" y1="1600.00" x2="321.00" y2="1703.00" stroke="rgba(200,208,214,0.8)" stroke-width="1.2"/>
<text x="205.26" y="1801.79" font-size="41.13" fill="#a8289a" textLength="53.74" lengthAdjust="spacingAndGlyphs" style="">OF</text>
<text x="270.66" y="1797.03" font-size="39.77" fill="#a8289a" textLength="27.07" lengthAdjust="spacingAndGlyphs" style="font-family:'DejaVu Sans',sans-serif">♀</text>
<text x="317.84" y="1797.00" font-size="39.86" fill="#2f56b8" textLength="34.94" lengthAdjust="spacingAndGlyphs" style="">M</text>
<text x="373.23" y="1794.19" font-size="40.54" fill="#2f56b8" textLength="31.08" lengthAdjust="spacingAndGlyphs" style="font-family:'DejaVu Sans',sans-serif">♂</text>
<text x="86.65" y="1855.50" font-size="39.00" fill="#000" textLength="88.33" lengthAdjust="spacingAndGlyphs" style="">Egr1</text>
<text x="63.31" y="1934.00" font-size="40.00" fill="#6e8277" textLength="110.59" lengthAdjust="spacingAndGlyphs" style="">eGFP</text>
<g transform="translate(213.00,1817.00) scale(1.06)">
<circle cx="26.8" cy="5.6" r="5.7" fill="#a8278f"/>
<path d="M0.7,23.9 C2.5,19 9,11 16.5,9 L21.5,8.3 C26,10.5 30,10.8 34,10.8 C46,10.5 56,18.5 58.4,32 C59.6,40 57.8,47 52.5,50.8 L21.5,50.8 C19,50.8 18.6,47 21.5,46.6 L25.2,46.6 C23.8,44.5 23.8,42.5 24.6,40.8 C22,39.5 19,38.4 16.5,38.2 C14.5,39.5 11.5,39.6 11.2,37.4 C11.2,35.6 13.5,35 15.5,35.2 C16.8,35.1 18,34.6 18.5,34 C17.5,32.7 16.8,31.8 16.3,31.2 C12,29.6 8,28.6 4.2,28.1 C1.8,27.8 -0.2,26.5 0.7,23.9 Z" fill="#a8278f"/>
<circle cx="12.8" cy="18.4" r="1.9" fill="#fff"/>
<path d="M28.6,33.2 C28.2,36.5 26.5,39.2 24.4,41" fill="none" stroke="#fff" stroke-width="1.3"/>
<path d="M56.5,49.7 L73,49.7 C80.5,49.7 86.6,46 86.6,39.6 C86.6,35.5 85.8,33 84.6,31.2" fill="none" stroke="#a8278f" stroke-width="2.3" stroke-linecap="round"/>
</g>
<g transform="translate(321.00,1817.00) scale(1.06)">
<circle cx="26.8" cy="5.6" r="5.7" fill="#2e55b8"/>
<path d="M0.7,23.9 C2.5,19 9,11 16.5,9 L21.5,8.3 C26,10.5 30,10.8 34,10.8 C46,10.5 56,18.5 58.4,32 C59.6,40 57.8,47 52.5,50.8 L21.5,50.8 C19,50.8 18.6,47 21.5,46.6 L25.2,46.6 C23.8,44.5 23.8,42.5 24.6,40.8 C22,39.5 19,38.4 16.5,38.2 C14.5,39.5 11.5,39.6 11.2,37.4 C11.2,35.6 13.5,35 15.5,35.2 C16.8,35.1 18,34.6 18.5,34 C17.5,32.7 16.8,31.8 16.3,31.2 C12,29.6 8,28.6 4.2,28.1 C1.8,27.8 -0.2,26.5 0.7,23.9 Z" fill="#2e55b8"/>
<circle cx="12.8" cy="18.4" r="1.9" fill="#fff"/>
<path d="M28.6,33.2 C28.2,36.5 26.5,39.2 24.4,41" fill="none" stroke="#fff" stroke-width="1.3"/>
<path d="M56.5,49.7 L73,49.7 C80.5,49.7 86.6,46 86.6,39.6 C86.6,35.5 85.8,33 84.6,31.2" fill="none" stroke="#2e55b8" stroke-width="2.3" stroke-linecap="round"/>
</g>
<g transform="translate(220.50,1891.00) scale(1.06)">
<circle cx="26.8" cy="5.6" r="5.7" fill="#a47aa2"/>
<path d="M0.7,23.9 C2.5,19 9,11 16.5,9 L21.5,8.3 C26,10.5 30,10.8 34,10.8 C46,10.5 56,18.5 58.4,32 C59.6,40 57.8,47 52.5,50.8 L21.5,50.8 C19,50.8 18.6,47 21.5,46.6 L25.2,46.6 C23.8,44.5 23.8,42.5 24.6,40.8 C22,39.5 19,38.4 16.5,38.2 C14.5,39.5 11.5,39.6 11.2,37.4 C11.2,35.6 13.5,35 15.5,35.2 C16.8,35.1 18,34.6 18.5,34 C17.5,32.7 16.8,31.8 16.3,31.2 C12,29.6 8,28.6 4.2,28.1 C1.8,27.8 -0.2,26.5 0.7,23.9 Z" fill="#a47aa2"/>
<circle cx="12.8" cy="18.4" r="1.9" fill="#fff"/>
<path d="M28.6,33.2 C28.2,36.5 26.5,39.2 24.4,41" fill="none" stroke="#fff" stroke-width="1.3"/>
<path d="M56.5,49.7 L73,49.7 C80.5,49.7 86.6,46 86.6,39.6 C86.6,35.5 85.8,33 84.6,31.2" fill="none" stroke="#a47aa2" stroke-width="2.3" stroke-linecap="round"/>
</g>
<g transform="translate(327.00,1888.00) scale(1.06)">
<circle cx="26.8" cy="5.6" r="5.7" fill="#7b8fa0"/>
<path d="M0.7,23.9 C2.5,19 9,11 16.5,9 L21.5,8.3 C26,10.5 30,10.8 34,10.8 C46,10.5 56,18.5 58.4,32 C59.6,40 57.8,47 52.5,50.8 L21.5,50.8 C19,50.8 18.6,47 21.5,46.6 L25.2,46.6 C23.8,44.5 23.8,42.5 24.6,40.8 C22,39.5 19,38.4 16.5,38.2 C14.5,39.5 11.5,39.6 11.2,37.4 C11.2,35.6 13.5,35 15.5,35.2 C16.8,35.1 18,34.6 18.5,34 C17.5,32.7 16.8,31.8 16.3,31.2 C12,29.6 8,28.6 4.2,28.1 C1.8,27.8 -0.2,26.5 0.7,23.9 Z" fill="#7b8fa0"/>
<circle cx="12.8" cy="18.4" r="1.9" fill="#fff"/>
<path d="M28.6,33.2 C28.2,36.5 26.5,39.2 24.4,41" fill="none" stroke="#fff" stroke-width="1.3"/>
<path d="M56.5,49.7 L73,49.7 C80.5,49.7 86.6,46 86.6,39.6 C86.6,35.5 85.8,33 84.6,31.2" fill="none" stroke="#7b8fa0" stroke-width="2.3" stroke-linecap="round"/>
</g>
<line x1="270.00" y1="1969.00" x2="270.00" y2="2058.00" stroke="#000" stroke-width="3.2"/>
<path d="M257,2055.5 L284,2055.5 L270.5,2081.5 Z" fill="#000" stroke="none" stroke-width="0"/>
<text x="91.30" y="2036.20" font-size="41.00" fill="#000" textLength="155.82" lengthAdjust="spacingAndGlyphs" style="">3 weeks</text>
<rect x="75.00" y="2113.80" width="158.90" height="154.80" fill="#f0f1f3" stroke="#5a5a5a" stroke-width="1.4"/>
<line x1="113.40" y1="2113.80" x2="113.40" y2="2268.60" stroke="#8a8a8a" stroke-width="1.0"/>
<line x1="152.80" y1="2113.80" x2="152.80" y2="2268.60" stroke="#8a8a8a" stroke-width="1.0"/>
<line x1="193.00" y1="2113.80" x2="193.00" y2="2268.60" stroke="#8a8a8a" stroke-width="1.0"/>
<line x1="75.00" y1="2148.70" x2="233.90" y2="2148.70" stroke="#8a8a8a" stroke-width="1.0"/>
<line x1="75.00" y1="2188.70" x2="233.90" y2="2188.70" stroke="#8a8a8a" stroke-width="1.0"/>
<line x1="75.00" y1="2229.20" x2="233.90" y2="2229.20" stroke="#8a8a8a" stroke-width="1.0"/>
<rect x="132.30" y="2167.00" width="41.70" height="41.50" fill="none" stroke="#d0689a" stroke-width="1.0"/>
<g transform="translate(157.5,2191.4) rotate(39)"><path d="M0,0 C2,-4 9,-5.8 17,-6.3 C26,-6.8 31.5,-4 31.5,0 C31.5,4 26,6.8 17,6.3 C9,5.8 2,4 0,0 Z" fill="#444" stroke="#222" stroke-width="0.8"/></g>
<path d="M181.5,2211 C186,2215 189,2222 192,2229 C194.5,2233 198,2235 201.5,2234.5" fill="none" stroke="#a07a7a" stroke-width="1.3"/>
<path d="M321.8,2129.5 L321.8,2258 C321.8,2276 414.5,2276 414.5,2258 L414.5,2129.5" fill="#eaedf0" stroke="#a4a9ae" stroke-width="1.4"/>
<path d="M323.5,2169.6 L323.5,2256 C323.5,2271 412.8,2271 412.8,2256 L412.8,2169.6 Z" fill="#d6dae0" stroke="none" stroke-width="0"/>
<path d="M324,2241 C336,2256 401,2256 412.5,2241 L412.5,2256 C412.5,2270.5 324,2270.5 324,2256 Z" fill="#ccd0d6" stroke="none" stroke-width="0"/>
<ellipse cx="368.2" cy="2169.6" rx="44.6" ry="10" fill="#e2e5e9"/>
<rect x="362.00" y="2141.00" width="22.70" height="96.00" fill="rgba(255,255,255,0.28)" stroke="none" stroke-width="0"/>
<ellipse cx="368.2" cy="2129.5" rx="46.3" ry="14.4" fill="#eef0f2" stroke="#a4a9ae" stroke-width="1.4"/>
<ellipse cx="368.2" cy="2131" rx="42.5" ry="11" fill="#e6e9ec" stroke="#b5babf" stroke-width="1"/>
<g transform="translate(357.5,2191) rotate(-55)"><rect x="-15" y="-10" width="30" height="20" rx="8" fill="#7c7c7c"/></g>
<path d="M343.5,2179 C342,2170 343,2160 347,2154 C350,2152 353,2153 355,2157 C357,2160 360,2162 359.5,2164.5 C357,2166 356,2172 357,2179 Z" fill="#4a4a4a" stroke="none" stroke-width="0"/>
<path d="M352,2165 C353,2169 353.5,2173 352.5,2176" fill="none" stroke="#d9a3a3" stroke-width="2.2"/>
<path d="M335,2169.5 C337,2172 339,2174.5 342,2175" fill="none" stroke="#d9a3a3" stroke-width="2.2"/>
<path d="M368,2201 C370,2206 370,2210 369.5,2214 M371,2200 C373,2205 375,2209 375.5,2214" fill="none" stroke="#d8b0b0" stroke-width="1.5"/>
<path d="M372.5,2198 C380,2204 385,2215 387,2226 C388,2231 388.5,2234 388.6,2236.5" fill="none" stroke="#d4aaaa" stroke-width="1.3"/>
<path d="M261.70,2388.50 L325.00,2317.70 L350.20,2340.20 L287.50,2410.30 L367.90,2477.70 L340.70,2509.00 L265.10,2436.20 L193.60,2515.80 L169.10,2494.10 L239.20,2413.70 L156.80,2346.30 L184.00,2315.70 Z" fill="#f0f1f3" stroke="none" stroke-width="0"/>
<path d="M156.80,2346.30 L184.00,2315.70 L256.26,2383.40 L233.43,2408.98 Z" fill="#d9dce1" stroke="none" stroke-width="0"/>
<path d="M163.42,2345.77 L184.30,2322.29 L253.20,2386.84 L236.50,2405.55 Z" fill="#f0f1f3" stroke="none" stroke-width="0"/>
<polyline points="236.50,2405.55 163.42,2345.77 184.30,2322.29 253.20,2386.84" stroke="#777" stroke-width="0.9" fill="none"/>
<path d="M340.70,2509.00 L367.90,2477.70 L295.54,2417.04 L272.66,2443.48 Z" fill="#d9dce1" stroke="none" stroke-width="0"/>
<path d="M340.40,2502.33 L361.36,2478.22 L292.53,2420.52 L275.67,2440.00 Z" fill="#f0f1f3" stroke="none" stroke-width="0"/>
<polyline points="275.67,2440.00 340.40,2502.33 361.36,2478.22 292.53,2420.52" stroke="#777" stroke-width="0.9" fill="none"/>
<path d="M261.70,2388.50 L325.00,2317.70 L350.20,2340.20 L287.50,2410.30 L367.90,2477.70 L340.70,2509.00 L265.10,2436.20 L193.60,2515.80 L169.10,2494.10 L239.20,2413.70 L156.80,2346.30 L184.00,2315.70 Z" fill="none" stroke="#5e5e5e" stroke-width="1.3"/>
<g transform="translate(226.5,2456) rotate(137)"><path d="M0,0 C2,-4 9,-6 17,-6.5 C25,-7 29,-4 29,0 C29,4 25,7 17,6.5 C9,6 2,4 0,0 Z" fill="#3f3f3f"/></g>
<path d="M206.5,2475 C203,2480 199,2486 195,2491 C193,2494 191.5,2496 191.5,2497.5" fill="none" stroke="#b58a8a" stroke-width="1.2"/>
<line x1="731.00" y1="1665.40" x2="731.00" y2="1693.40" stroke="#222" stroke-width="2.6"/>
<line x1="731.00" y1="1784.90" x2="731.00" y2="1811.00" stroke="#222" stroke-width="2.6"/>
<rect x="678.00" y="1693.40" width="106.00" height="91.50" fill="#c6a4c7" stroke="#333" stroke-width="2.6"/>
<line x1="678.00" y1="1743.30" x2="784.00" y2="1743.30" stroke="#333" stroke-width="5.5"/>
<circle cx="731.00" cy="1665.40" r="2.90" fill="rgba(0,0,0,0.55)" stroke="rgba(0,0,0,0.85)" stroke-width="1.2"/>
<circle cx="731.00" cy="1674.00" r="2.90" fill="rgba(0,0,0,0.55)" stroke="rgba(0,0,0,0.85)" stroke-width="1.2"/>
<circle cx="731.00" cy="1691.00" r="2.90" fill="rgba(0,0,0,0.55)" stroke="rgba(0,0,0,0.85)" stroke-width="1.2"/>
<circle cx="731.00" cy="1700.20" r="2.90" fill="rgba(0,0,0,0.55)" stroke="rgba(0,0,0,0.85)" stroke-width="1.2"/>
<circle cx="731.00" cy="1743.30" r="2.90" fill="rgba(0,0,0,0.55)" stroke="rgba(0,0,0,0.85)" stroke-width="1.2"/>
<circle cx="731.00" cy="1781.80" r="2.90" fill="rgba(0,0,0,0.55)" stroke="rgba(0,0,0,0.85)" stroke-width="1.2"/>
<circle cx="731.00" cy="1786.40" r="2.90" fill="rgba(0,0,0,0.55)" stroke="rgba(0,0,0,0.85)" stroke-width="1.2"/>
<circle cx="731.00" cy="1798.70" r="2.90" fill="rgba(0,0,0,0.55)" stroke="rgba(0,0,0,0.85)" stroke-width="1.2"/>
<circle cx="731.00" cy="1811.00" r="2.90" fill="rgba(0,0,0,0.55)" stroke="rgba(0,0,0,0.85)" stroke-width="1.2"/>
<line x1="873.50" y1="1627.90" x2="873.50" y2="1652.80" stroke="#222" stroke-width="2.6"/>
<line x1="873.50" y1="1697.70" x2="873.50" y2="1764.90" stroke="#222" stroke-width="2.6"/>
<rect x="820.10" y="1652.80" width="106.80" height="44.90" fill="#d23ccc" stroke="#333" stroke-width="2.6"/>
<line x1="820.10" y1="1657.20" x2="926.90" y2="1657.20" stroke="#333" stroke-width="5.5"/>
<circle cx="873.50" cy="1528.40" r="2.90" fill="rgba(0,0,0,0.55)" stroke="rgba(0,0,0,0.85)" stroke-width="1.2"/>
<circle cx="873.50" cy="1627.90" r="2.90" fill="rgba(0,0,0,0.55)" stroke="rgba(0,0,0,0.85)" stroke-width="1.2"/>
<circle cx="873.50" cy="1654.00" r="2.90" fill="rgba(0,0,0,0.55)" stroke="rgba(0,0,0,0.85)" stroke-width="1.2"/>
<circle cx="873.50" cy="1657.00" r="2.90" fill="rgba(0,0,0,0.55)" stroke="rgba(0,0,0,0.85)" stroke-width="1.2"/>
<circle cx="873.50" cy="1691.60" r="2.90" fill="rgba(0,0,0,0.55)" stroke="rgba(0,0,0,0.85)" stroke-width="1.2"/>
<circle cx="873.50" cy="1700.20" r="2.90" fill="rgba(0,0,0,0.55)" stroke="rgba(0,0,0,0.85)" stroke-width="1.2"/>
<circle cx="873.50" cy="1738.70" r="2.90" fill="rgba(0,0,0,0.55)" stroke="rgba(0,0,0,0.85)" stroke-width="1.2"/>
<circle cx="873.50" cy="1764.90" r="2.90" fill="rgba(0,0,0,0.55)" stroke="rgba(0,0,0,0.85)" stroke-width="1.2"/>
<line x1="645.30" y1="1499.50" x2="645.30" y2="1877.00" stroke="#000" stroke-width="2.6"/>
<line x1="644.00" y1="1875.70" x2="957.80" y2="1875.70" stroke="#000" stroke-width="2.6"/>
<line x1="731.00" y1="1875.70" x2="731.00" y2="1882.70" stroke="#333" stroke-width="2.6"/>
<line x1="873.50" y1="1875.70" x2="873.50" y2="1882.70" stroke="#333" stroke-width="2.6"/>
<line x1="638.30" y1="1515.50" x2="645.30" y2="1515.50" stroke="#333" stroke-width="2.6"/>
<text x="597.99" y="1527.22" font-size="33.50" fill="#2a2a2a" textLength="37.26" lengthAdjust="spacingAndGlyphs" style="">80</text>
<line x1="638.30" y1="1601.00" x2="645.30" y2="1601.00" stroke="#333" stroke-width="2.6"/>
<text x="597.99" y="1612.72" font-size="33.50" fill="#2a2a2a" textLength="37.26" lengthAdjust="spacingAndGlyphs" style="">60</text>
<line x1="638.30" y1="1687.00" x2="645.30" y2="1687.00" stroke="#333" stroke-width="2.6"/>
<text x="597.99" y="1698.72" font-size="33.50" fill="#2a2a2a" textLength="37.26" lengthAdjust="spacingAndGlyphs" style="">40</text>
<line x1="638.30" y1="1772.60" x2="645.30" y2="1772.60" stroke="#333" stroke-width="2.6"/>
<text x="597.99" y="1784.32" font-size="33.50" fill="#2a2a2a" textLength="37.26" lengthAdjust="spacingAndGlyphs" style="">20</text>
<line x1="638.30" y1="1858.20" x2="645.30" y2="1858.20" stroke="#333" stroke-width="2.6"/>
<text x="616.58" y="1869.92" font-size="33.50" fill="#2a2a2a" textLength="18.63" lengthAdjust="spacingAndGlyphs" style="">0</text>
<text x="676.28" y="1916.80" font-size="41.00" fill="#000" textLength="106.03" lengthAdjust="spacingAndGlyphs" style="">eGFP</text>
<text x="829.85" y="1916.80" font-size="41.00" fill="#000" textLength="80.67" lengthAdjust="spacingAndGlyphs" style="">Egr1</text>
<text x="695.01" y="1453.30" font-size="43.00" fill="#000" textLength="215.93" lengthAdjust="spacingAndGlyphs" style="">Open Field</text>
<text transform="translate(580.00,1803.81) rotate(-90)" x="0" y="0" font-size="40.00" fill="#000" textLength="252.86" lengthAdjust="spacingAndGlyphs" style="">Centre entries</text>
<polyline points="729.90,1518.20 729.90,1509.90 874.00,1509.90 874.00,1518.20" stroke="#000" stroke-width="2.2" fill="none" stroke-linejoin="miter"/>
<text x="792.33" y="1515.98" font-size="42.29" fill="#000" textLength="17.40" lengthAdjust="spacingAndGlyphs" style="">*</text>
<text x="735.41" y="1978.91" font-size="49.44" fill="#a8289a" textLength="67.46" lengthAdjust="spacingAndGlyphs" style="">OF</text>
<text x="815.23" y="1973.03" font-size="50.99" fill="#a8289a" textLength="37.67" lengthAdjust="spacingAndGlyphs" style="font-family:'DejaVu Sans',sans-serif">♀</text>
<line x1="1225.60" y1="1742.60" x2="1225.60" y2="1753.60" stroke="#222" stroke-width="2.6"/>
<line x1="1225.60" y1="1800.40" x2="1225.60" y2="1819.60" stroke="#222" stroke-width="2.6"/>
<rect x="1172.30" y="1753.60" width="106.60" height="46.80" fill="#c6a4c7" stroke="#333" stroke-width="2.6"/>
<line x1="1172.30" y1="1781.00" x2="1278.90" y2="1781.00" stroke="#333" stroke-width="5.5"/>
<circle cx="1225.60" cy="1742.60" r="2.90" fill="rgba(0,0,0,0.55)" stroke="rgba(0,0,0,0.85)" stroke-width="1.2"/>
<circle cx="1225.60" cy="1751.50" r="2.90" fill="rgba(0,0,0,0.55)" stroke="rgba(0,0,0,0.85)" stroke-width="1.2"/>
<circle cx="1225.60" cy="1754.50" r="2.90" fill="rgba(0,0,0,0.55)" stroke="rgba(0,0,0,0.85)" stroke-width="1.2"/>
<circle cx="1225.60" cy="1779.60" r="2.90" fill="rgba(0,0,0,0.55)" stroke="rgba(0,0,0,0.85)" stroke-width="1.2"/>
<circle cx="1225.60" cy="1782.60" r="2.90" fill="rgba(0,0,0,0.55)" stroke="rgba(0,0,0,0.85)" stroke-width="1.2"/>
<circle cx="1225.60" cy="1795.90" r="2.90" fill="rgba(0,0,0,0.55)" stroke="rgba(0,0,0,0.85)" stroke-width="1.2"/>
<circle cx="1225.60" cy="1803.30" r="2.90" fill="rgba(0,0,0,0.55)" stroke="rgba(0,0,0,0.85)" stroke-width="1.2"/>
<circle cx="1225.60" cy="1816.70" r="2.90" fill="rgba(0,0,0,0.55)" stroke="rgba(0,0,0,0.85)" stroke-width="1.2"/>
<circle cx="1225.60" cy="1819.60" r="2.90" fill="rgba(0,0,0,0.55)" stroke="rgba(0,0,0,0.85)" stroke-width="1.2"/>
<line x1="1368.00" y1="1629.30" x2="1368.00" y2="1659.20" stroke="#222" stroke-width="2.6"/>
<line x1="1368.00" y1="1716.90" x2="1368.00" y2="1786.20" stroke="#222" stroke-width="2.6"/>
<rect x="1314.30" y="1659.20" width="107.40" height="57.70" fill="#d23ccc" stroke="#333" stroke-width="2.6"/>
<line x1="1314.30" y1="1671.60" x2="1421.70" y2="1671.60" stroke="#333" stroke-width="5.5"/>
<circle cx="1368.00" cy="1629.30" r="2.90" fill="rgba(0,0,0,0.55)" stroke="rgba(0,0,0,0.85)" stroke-width="1.2"/>
<circle cx="1368.00" cy="1653.80" r="2.90" fill="rgba(0,0,0,0.55)" stroke="rgba(0,0,0,0.85)" stroke-width="1.2"/>
<circle cx="1368.00" cy="1658.30" r="2.90" fill="rgba(0,0,0,0.55)" stroke="rgba(0,0,0,0.85)" stroke-width="1.2"/>
<circle cx="1368.00" cy="1667.20" r="2.90" fill="rgba(0,0,0,0.55)" stroke="rgba(0,0,0,0.85)" stroke-width="1.2"/>
<circle cx="1368.00" cy="1671.60" r="2.90" fill="rgba(0,0,0,0.55)" stroke="rgba(0,0,0,0.85)" stroke-width="1.2"/>
<circle cx="1368.00" cy="1674.60" r="2.90" fill="rgba(0,0,0,0.55)" stroke="rgba(0,0,0,0.85)" stroke-width="1.2"/>
<circle cx="1368.00" cy="1716.90" r="2.90" fill="rgba(0,0,0,0.55)" stroke="rgba(0,0,0,0.85)" stroke-width="1.2"/>
<circle cx="1368.00" cy="1783.20" r="2.90" fill="rgba(0,0,0,0.55)" stroke="rgba(0,0,0,0.85)" stroke-width="1.2"/>
<circle cx="1368.00" cy="1786.20" r="2.90" fill="rgba(0,0,0,0.55)" stroke="rgba(0,0,0,0.85)" stroke-width="1.2"/>
<line x1="1140.30" y1="1499.90" x2="1140.30" y2="1877.00" stroke="#000" stroke-width="2.6"/>
<line x1="1139.00" y1="1875.70" x2="1453.00" y2="1875.70" stroke="#000" stroke-width="2.6"/>
<line x1="1225.60" y1="1875.70" x2="1225.60" y2="1882.70" stroke="#333" stroke-width="2.6"/>
<line x1="1368.00" y1="1875.70" x2="1368.00" y2="1882.70" stroke="#333" stroke-width="2.6"/>
<line x1="1133.30" y1="1516.20" x2="1140.30" y2="1516.20" stroke="#333" stroke-width="2.6"/>
<text x="1090.59" y="1527.92" font-size="33.50" fill="#2a2a2a" textLength="37.26" lengthAdjust="spacingAndGlyphs" style="">40</text>
<line x1="1133.30" y1="1602.00" x2="1140.30" y2="1602.00" stroke="#333" stroke-width="2.6"/>
<text x="1090.59" y="1613.72" font-size="33.50" fill="#2a2a2a" textLength="37.26" lengthAdjust="spacingAndGlyphs" style="">30</text>
<line x1="1133.30" y1="1687.30" x2="1140.30" y2="1687.30" stroke="#333" stroke-width="2.6"/>
<text x="1090.59" y="1699.02" font-size="33.50" fill="#2a2a2a" textLength="37.26" lengthAdjust="spacingAndGlyphs" style="">20</text>
<line x1="1133.30" y1="1773.00" x2="1140.30" y2="1773.00" stroke="#333" stroke-width="2.6"/>
<text x="1090.59" y="1784.72" font-size="33.50" fill="#2a2a2a" textLength="37.26" lengthAdjust="spacingAndGlyphs" style="">10</text>
<line x1="1133.30" y1="1858.70" x2="1140.30" y2="1858.70" stroke="#333" stroke-width="2.6"/>
<text x="1109.18" y="1870.42" font-size="33.50" fill="#2a2a2a" textLength="18.63" lengthAdjust="spacingAndGlyphs" style="">0</text>
<text x="1168.28" y="1917.00" font-size="41.00" fill="#000" textLength="105.51" lengthAdjust="spacingAndGlyphs" style="">eGFP</text>
<text x="1321.15" y="1917.00" font-size="41.00" fill="#000" textLength="80.67" lengthAdjust="spacingAndGlyphs" style="">Egr1</text>
<text x="1092.68" y="1459.00" font-size="43.00" fill="#000" textLength="389.04" lengthAdjust="spacingAndGlyphs" style="">Elevated Plus Maze</text>
<text transform="translate(1073.40,1869.30) rotate(-90)" x="0" y="0" font-size="40.00" fill="#000" textLength="389.83" lengthAdjust="spacingAndGlyphs" style="">Time in open arms (s)</text>
<polyline points="1229.90,1518.00 1229.90,1509.70 1374.00,1509.70 1374.00,1518.00" stroke="#000" stroke-width="2.2" fill="none" stroke-linejoin="miter"/>
<text x="1285.71" y="1515.57" font-size="42.57" fill="#000" textLength="17.84" lengthAdjust="spacingAndGlyphs" style="">*</text>
<text x="1306.01" y="1515.57" font-size="42.57" fill="#000" textLength="17.84" lengthAdjust="spacingAndGlyphs" style="">*</text>
<text x="1235.41" y="1979.01" font-size="49.30" fill="#a8289a" textLength="67.46" lengthAdjust="spacingAndGlyphs" style="">OF</text>
<text x="1315.23" y="1973.05" font-size="51.58" fill="#a8289a" textLength="37.67" lengthAdjust="spacingAndGlyphs" style="font-family:'DejaVu Sans',sans-serif">♀</text>
<line x1="1734.80" y1="1594.60" x2="1734.80" y2="1640.00" stroke="#222" stroke-width="2.6"/>
<line x1="1734.80" y1="1681.80" x2="1734.80" y2="1723.00" stroke="#222" stroke-width="2.6"/>
<rect x="1683.10" y="1640.00" width="103.40" height="41.80" fill="#c6a4c7" stroke="#333" stroke-width="2.6"/>
<line x1="1683.10" y1="1667.00" x2="1786.50" y2="1667.00" stroke="#333" stroke-width="5.5"/>
<circle cx="1734.80" cy="1594.60" r="2.90" fill="rgba(0,0,0,0.55)" stroke="rgba(0,0,0,0.85)" stroke-width="1.2"/>
<circle cx="1734.80" cy="1615.60" r="2.90" fill="rgba(0,0,0,0.55)" stroke="rgba(0,0,0,0.85)" stroke-width="1.2"/>
<circle cx="1734.80" cy="1637.70" r="2.90" fill="rgba(0,0,0,0.55)" stroke="rgba(0,0,0,0.85)" stroke-width="1.2"/>
<circle cx="1734.80" cy="1646.90" r="2.90" fill="rgba(0,0,0,0.55)" stroke="rgba(0,0,0,0.85)" stroke-width="1.2"/>
<circle cx="1734.80" cy="1657.50" r="2.90" fill="rgba(0,0,0,0.55)" stroke="rgba(0,0,0,0.85)" stroke-width="1.2"/>
<circle cx="1734.80" cy="1675.40" r="2.90" fill="rgba(0,0,0,0.55)" stroke="rgba(0,0,0,0.85)" stroke-width="1.2"/>
<circle cx="1734.80" cy="1681.80" r="2.90" fill="rgba(0,0,0,0.55)" stroke="rgba(0,0,0,0.85)" stroke-width="1.2"/>
<circle cx="1734.80" cy="1722.90" r="2.90" fill="rgba(0,0,0,0.55)" stroke="rgba(0,0,0,0.85)" stroke-width="1.2"/>
<line x1="1872.30" y1="1641.30" x2="1872.30" y2="1677.60" stroke="#222" stroke-width="2.6"/>
<line x1="1872.30" y1="1734.00" x2="1872.30" y2="1775.50" stroke="#222" stroke-width="2.6"/>
<rect x="1820.60" y="1677.60" width="103.40" height="56.40" fill="#d23ccc" stroke="#333" stroke-width="2.6"/>
<line x1="1820.60" y1="1712.60" x2="1924.00" y2="1712.60" stroke="#333" stroke-width="5.5"/>
<circle cx="1872.30" cy="1641.30" r="2.90" fill="rgba(0,0,0,0.55)" stroke="rgba(0,0,0,0.85)" stroke-width="1.2"/>
<circle cx="1872.30" cy="1645.00" r="2.90" fill="rgba(0,0,0,0.55)" stroke="rgba(0,0,0,0.85)" stroke-width="1.2"/>
<circle cx="1872.30" cy="1674.90" r="2.90" fill="rgba(0,0,0,0.55)" stroke="rgba(0,0,0,0.85)" stroke-width="1.2"/>
<circle cx="1872.30" cy="1686.90" r="2.90" fill="rgba(0,0,0,0.55)" stroke="rgba(0,0,0,0.85)" stroke-width="1.2"/>
<circle cx="1872.30" cy="1698.60" r="2.90" fill="rgba(0,0,0,0.55)" stroke="rgba(0,0,0,0.85)" stroke-width="1.2"/>
<circle cx="1872.30" cy="1727.10" r="2.90" fill="rgba(0,0,0,0.55)" stroke="rgba(0,0,0,0.85)" stroke-width="1.2"/>
<circle cx="1872.30" cy="1732.70" r="2.90" fill="rgba(0,0,0,0.55)" stroke="rgba(0,0,0,0.85)" stroke-width="1.2"/>
<circle cx="1872.30" cy="1739.10" r="2.90" fill="rgba(0,0,0,0.55)" stroke="rgba(0,0,0,0.85)" stroke-width="1.2"/>
<circle cx="1872.30" cy="1775.50" r="2.90" fill="rgba(0,0,0,0.55)" stroke="rgba(0,0,0,0.85)" stroke-width="1.2"/>
<line x1="1653.20" y1="1496.00" x2="1653.20" y2="1874.00" stroke="#000" stroke-width="2.6"/>
<line x1="1651.90" y1="1872.70" x2="1954.20" y2="1872.70" stroke="#000" stroke-width="2.6"/>
<line x1="1734.80" y1="1872.70" x2="1734.80" y2="1879.70" stroke="#333" stroke-width="2.6"/>
<line x1="1872.30" y1="1872.70" x2="1872.30" y2="1879.70" stroke="#333" stroke-width="2.6"/>
<line x1="1646.20" y1="1511.90" x2="1653.20" y2="1511.90" stroke="#333" stroke-width="2.6"/>
<text x="1587.39" y="1523.62" font-size="33.50" fill="#2a2a2a" textLength="55.90" lengthAdjust="spacingAndGlyphs" style="">300</text>
<line x1="1646.20" y1="1626.50" x2="1653.20" y2="1626.50" stroke="#333" stroke-width="2.6"/>
<text x="1587.39" y="1638.22" font-size="33.50" fill="#2a2a2a" textLength="55.90" lengthAdjust="spacingAndGlyphs" style="">200</text>
<line x1="1646.20" y1="1741.10" x2="1653.20" y2="1741.10" stroke="#333" stroke-width="2.6"/>
<text x="1587.39" y="1752.82" font-size="33.50" fill="#2a2a2a" textLength="55.90" lengthAdjust="spacingAndGlyphs" style="">100</text>
<line x1="1646.20" y1="1855.50" x2="1653.20" y2="1855.50" stroke="#333" stroke-width="2.6"/>
<text x="1624.58" y="1867.22" font-size="33.50" fill="#2a2a2a" textLength="18.63" lengthAdjust="spacingAndGlyphs" style="">0</text>
<text x="1672.98" y="1913.20" font-size="41.00" fill="#000" textLength="105.72" lengthAdjust="spacingAndGlyphs" style="">eGFP</text>
<text x="1826.57" y="1913.20" font-size="41.00" fill="#000" textLength="80.03" lengthAdjust="spacingAndGlyphs" style="">Egr1</text>
<text x="1620.91" y="1459.70" font-size="43.00" fill="#000" textLength="346.16" lengthAdjust="spacingAndGlyphs" style="">Forced Swim Test</text>
<text transform="translate(1568.95,1873.76) rotate(-90)" x="0" y="0" font-size="38.00" fill="#000" textLength="404.12" lengthAdjust="spacingAndGlyphs" style="">Time spent immobile (s)</text>
<polyline points="1735.10,1514.40 1735.10,1506.20 1879.20,1506.20 1879.20,1514.40" stroke="#000" stroke-width="2.2" fill="none" stroke-linejoin="miter"/>
<text x="1801.84" y="1513.37" font-size="42.57" fill="#000" textLength="17.19" lengthAdjust="spacingAndGlyphs" style="">*</text>
<text x="1742.90" y="1979.01" font-size="49.30" fill="#a8289a" textLength="67.78" lengthAdjust="spacingAndGlyphs" style="">OF</text>
<text x="1822.64" y="1973.05" font-size="51.58" fill="#a8289a" textLength="38.45" lengthAdjust="spacingAndGlyphs" style="font-family:'DejaVu Sans',sans-serif">♀</text>
<line x1="731.00" y1="2228.00" x2="731.00" y2="2259.40" stroke="#222" stroke-width="2.6"/>
<line x1="731.00" y1="2295.70" x2="731.00" y2="2344.70" stroke="#222" stroke-width="2.6"/>
<rect x="679.50" y="2259.40" width="103.00" height="36.30" fill="#a9b9c6" stroke="#333" stroke-width="2.6"/>
<line x1="679.50" y1="2276.30" x2="782.50" y2="2276.30" stroke="#333" stroke-width="5.5"/>
<circle cx="731.00" cy="2184.00" r="2.90" fill="rgba(0,0,0,0.55)" stroke="rgba(0,0,0,0.85)" stroke-width="1.2"/>
<circle cx="731.00" cy="2228.00" r="2.90" fill="rgba(0,0,0,0.55)" stroke="rgba(0,0,0,0.85)" stroke-width="1.2"/>
<circle cx="731.00" cy="2238.80" r="2.90" fill="rgba(0,0,0,0.55)" stroke="rgba(0,0,0,0.85)" stroke-width="1.2"/>
<circle cx="731.00" cy="2266.20" r="2.90" fill="rgba(0,0,0,0.55)" stroke="rgba(0,0,0,0.85)" stroke-width="1.2"/>
<circle cx="731.00" cy="2276.30" r="2.90" fill="rgba(0,0,0,0.55)" stroke="rgba(0,0,0,0.85)" stroke-width="1.2"/>
<circle cx="731.00" cy="2289.30" r="2.90" fill="rgba(0,0,0,0.55)" stroke="rgba(0,0,0,0.85)" stroke-width="1.2"/>
<circle cx="731.00" cy="2293.30" r="2.90" fill="rgba(0,0,0,0.55)" stroke="rgba(0,0,0,0.85)" stroke-width="1.2"/>
<circle cx="731.00" cy="2300.30" r="2.90" fill="rgba(0,0,0,0.55)" stroke="rgba(0,0,0,0.85)" stroke-width="1.2"/>
<circle cx="731.00" cy="2331.10" r="2.90" fill="rgba(0,0,0,0.55)" stroke="rgba(0,0,0,0.85)" stroke-width="1.2"/>
<circle cx="731.00" cy="2344.70" r="2.90" fill="rgba(0,0,0,0.55)" stroke="rgba(0,0,0,0.85)" stroke-width="1.2"/>
<line x1="868.50" y1="2235.40" x2="868.50" y2="2273.30" stroke="#222" stroke-width="2.6"/>
<line x1="868.50" y1="2308.00" x2="868.50" y2="2331.00" stroke="#222" stroke-width="2.6"/>
<rect x="816.90" y="2273.30" width="103.20" height="34.70" fill="#4a8bd6" stroke="#333" stroke-width="2.6"/>
<line x1="816.90" y1="2281.60" x2="920.10" y2="2281.60" stroke="#333" stroke-width="5.5"/>
<circle cx="868.50" cy="2146.40" r="2.90" fill="rgba(0,0,0,0.55)" stroke="rgba(0,0,0,0.85)" stroke-width="1.2"/>
<circle cx="868.50" cy="2235.40" r="2.90" fill="rgba(0,0,0,0.55)" stroke="rgba(0,0,0,0.85)" stroke-width="1.2"/>
<circle cx="868.50" cy="2273.30" r="2.90" fill="rgba(0,0,0,0.55)" stroke="rgba(0,0,0,0.85)" stroke-width="1.2"/>
<circle cx="868.50" cy="2277.30" r="2.90" fill="rgba(0,0,0,0.55)" stroke="rgba(0,0,0,0.85)" stroke-width="1.2"/>
<circle cx="868.50" cy="2285.60" r="2.90" fill="rgba(0,0,0,0.55)" stroke="rgba(0,0,0,0.85)" stroke-width="1.2"/>
<circle cx="868.50" cy="2290.20" r="2.90" fill="rgba(0,0,0,0.55)" stroke="rgba(0,0,0,0.85)" stroke-width="1.2"/>
<circle cx="868.50" cy="2313.30" r="2.90" fill="rgba(0,0,0,0.55)" stroke="rgba(0,0,0,0.85)" stroke-width="1.2"/>
<circle cx="868.50" cy="2317.00" r="2.90" fill="rgba(0,0,0,0.55)" stroke="rgba(0,0,0,0.85)" stroke-width="1.2"/>
<circle cx="868.50" cy="2331.10" r="2.90" fill="rgba(0,0,0,0.55)" stroke="rgba(0,0,0,0.85)" stroke-width="1.2"/>
<line x1="648.70" y1="2074.70" x2="648.70" y2="2452.20" stroke="#000" stroke-width="2.6"/>
<line x1="647.40" y1="2450.90" x2="950.00" y2="2450.90" stroke="#000" stroke-width="2.6"/>
<line x1="731.00" y1="2450.90" x2="731.00" y2="2457.90" stroke="#333" stroke-width="2.6"/>
<line x1="868.30" y1="2450.90" x2="868.30" y2="2457.90" stroke="#333" stroke-width="2.6"/>
<line x1="641.70" y1="2091.00" x2="648.70" y2="2091.00" stroke="#333" stroke-width="2.6"/>
<text x="581.39" y="2102.72" font-size="33.50" fill="#2a2a2a" textLength="55.90" lengthAdjust="spacingAndGlyphs" style="">100</text>
<line x1="641.70" y1="2176.60" x2="648.70" y2="2176.60" stroke="#333" stroke-width="2.6"/>
<text x="600.16" y="2188.32" font-size="33.50" fill="#2a2a2a" textLength="37.26" lengthAdjust="spacingAndGlyphs" style="">75</text>
<line x1="641.70" y1="2262.50" x2="648.70" y2="2262.50" stroke="#333" stroke-width="2.6"/>
<text x="599.99" y="2274.22" font-size="33.50" fill="#2a2a2a" textLength="37.26" lengthAdjust="spacingAndGlyphs" style="">50</text>
<line x1="641.70" y1="2348.00" x2="648.70" y2="2348.00" stroke="#333" stroke-width="2.6"/>
<text x="600.16" y="2359.72" font-size="33.50" fill="#2a2a2a" textLength="37.26" lengthAdjust="spacingAndGlyphs" style="">25</text>
<line x1="641.70" y1="2434.10" x2="648.70" y2="2434.10" stroke="#333" stroke-width="2.6"/>
<text x="618.58" y="2445.82" font-size="33.50" fill="#2a2a2a" textLength="18.63" lengthAdjust="spacingAndGlyphs" style="">0</text>
<text x="667.29" y="2492.10" font-size="41.00" fill="#000" textLength="105.10" lengthAdjust="spacingAndGlyphs" style="">eGFP</text>
<text x="820.35" y="2492.10" font-size="41.00" fill="#000" textLength="80.67" lengthAdjust="spacingAndGlyphs" style="">Egr1</text>
<text x="776.92" y="2105.50" font-size="35.00" fill="#000" textLength="53.47" lengthAdjust="spacingAndGlyphs" style="">NS</text>
<line x1="779.00" y1="2114.00" x2="829.50" y2="2114.00" stroke="#000" stroke-width="2.2"/>
<text transform="translate(576.70,2381.50) rotate(-90)" x="0" y="0" font-size="40.00" fill="#000" textLength="251.34" lengthAdjust="spacingAndGlyphs" style="">Centre entries</text>
<text x="743.53" y="2545.20" font-size="50.29" fill="#2f56b8" textLength="42.40" lengthAdjust="spacingAndGlyphs" style="">M</text>
<text x="796.11" y="2544.30" font-size="60.14" fill="#2f56b8" textLength="40.28" lengthAdjust="spacingAndGlyphs" style="font-family:'DejaVu Sans',sans-serif">♂</text>
<line x1="1231.80" y1="2218.80" x2="1231.80" y2="2261.80" stroke="#222" stroke-width="2.6"/>
<line x1="1231.80" y1="2351.20" x2="1231.80" y2="2395.60" stroke="#222" stroke-width="2.6"/>
<rect x="1178.20" y="2261.80" width="107.20" height="89.40" fill="#a9b9c6" stroke="#333" stroke-width="2.6"/>
<line x1="1178.20" y1="2293.40" x2="1285.40" y2="2293.40" stroke="#333" stroke-width="5.5"/>
<circle cx="1231.80" cy="2218.80" r="2.90" fill="rgba(0,0,0,0.55)" stroke="rgba(0,0,0,0.85)" stroke-width="1.2"/>
<circle cx="1231.80" cy="2252.00" r="2.90" fill="rgba(0,0,0,0.55)" stroke="rgba(0,0,0,0.85)" stroke-width="1.2"/>
<circle cx="1231.80" cy="2262.40" r="2.90" fill="rgba(0,0,0,0.55)" stroke="rgba(0,0,0,0.85)" stroke-width="1.2"/>
<circle cx="1231.80" cy="2277.70" r="2.90" fill="rgba(0,0,0,0.55)" stroke="rgba(0,0,0,0.85)" stroke-width="1.2"/>
<circle cx="1231.80" cy="2289.90" r="2.90" fill="rgba(0,0,0,0.55)" stroke="rgba(0,0,0,0.85)" stroke-width="1.2"/>
<circle cx="1231.80" cy="2297.90" r="2.90" fill="rgba(0,0,0,0.55)" stroke="rgba(0,0,0,0.85)" stroke-width="1.2"/>
<circle cx="1231.80" cy="2338.40" r="2.90" fill="rgba(0,0,0,0.55)" stroke="rgba(0,0,0,0.85)" stroke-width="1.2"/>
<circle cx="1231.80" cy="2349.10" r="2.90" fill="rgba(0,0,0,0.55)" stroke="rgba(0,0,0,0.85)" stroke-width="1.2"/>
<circle cx="1231.80" cy="2357.10" r="2.90" fill="rgba(0,0,0,0.55)" stroke="rgba(0,0,0,0.85)" stroke-width="1.2"/>
<circle cx="1231.80" cy="2378.40" r="2.90" fill="rgba(0,0,0,0.55)" stroke="rgba(0,0,0,0.85)" stroke-width="1.2"/>
<circle cx="1231.80" cy="2395.60" r="2.90" fill="rgba(0,0,0,0.55)" stroke="rgba(0,0,0,0.85)" stroke-width="1.2"/>
<line x1="1374.50" y1="2159.60" x2="1374.50" y2="2252.60" stroke="#222" stroke-width="2.6"/>
<line x1="1374.50" y1="2340.20" x2="1374.50" y2="2376.30" stroke="#222" stroke-width="2.6"/>
<rect x="1320.90" y="2252.60" width="107.20" height="87.60" fill="#4a8bd6" stroke="#333" stroke-width="2.6"/>
<line x1="1320.90" y1="2304.40" x2="1428.10" y2="2304.40" stroke="#333" stroke-width="5.5"/>
<circle cx="1374.50" cy="2159.60" r="2.90" fill="rgba(0,0,0,0.55)" stroke="rgba(0,0,0,0.85)" stroke-width="1.2"/>
<circle cx="1374.50" cy="2186.90" r="2.90" fill="rgba(0,0,0,0.55)" stroke="rgba(0,0,0,0.85)" stroke-width="1.2"/>
<circle cx="1374.50" cy="2238.70" r="2.90" fill="rgba(0,0,0,0.55)" stroke="rgba(0,0,0,0.85)" stroke-width="1.2"/>
<circle cx="1374.50" cy="2297.90" r="2.90" fill="rgba(0,0,0,0.55)" stroke="rgba(0,0,0,0.85)" stroke-width="1.2"/>
<circle cx="1374.50" cy="2303.80" r="2.90" fill="rgba(0,0,0,0.55)" stroke="rgba(0,0,0,0.85)" stroke-width="1.2"/>
<circle cx="1374.50" cy="2306.20" r="2.90" fill="rgba(0,0,0,0.55)" stroke="rgba(0,0,0,0.85)" stroke-width="1.2"/>
<circle cx="1374.50" cy="2320.10" r="2.90" fill="rgba(0,0,0,0.55)" stroke="rgba(0,0,0,0.85)" stroke-width="1.2"/>
<circle cx="1374.50" cy="2346.70" r="2.90" fill="rgba(0,0,0,0.55)" stroke="rgba(0,0,0,0.85)" stroke-width="1.2"/>
<circle cx="1374.50" cy="2376.30" r="2.90" fill="rgba(0,0,0,0.55)" stroke="rgba(0,0,0,0.85)" stroke-width="1.2"/>
<circle cx="1374.50" cy="2377.80" r="2.90" fill="rgba(0,0,0,0.55)" stroke="rgba(0,0,0,0.85)" stroke-width="1.2"/>
<line x1="1146.50" y1="2067.60" x2="1146.50" y2="2444.30" stroke="#000" stroke-width="2.6"/>
<line x1="1145.20" y1="2443.00" x2="1459.40" y2="2443.00" stroke="#000" stroke-width="2.6"/>
<line x1="1231.80" y1="2443.00" x2="1231.80" y2="2450.00" stroke="#333" stroke-width="2.6"/>
<line x1="1374.50" y1="2443.00" x2="1374.50" y2="2450.00" stroke="#333" stroke-width="2.6"/>
<line x1="1139.50" y1="2152.00" x2="1146.50" y2="2152.00" stroke="#333" stroke-width="2.6"/>
<text x="1099.49" y="2163.72" font-size="33.50" fill="#2a2a2a" textLength="37.26" lengthAdjust="spacingAndGlyphs" style="">60</text>
<line x1="1139.50" y1="2243.00" x2="1146.50" y2="2243.00" stroke="#333" stroke-width="2.6"/>
<text x="1099.49" y="2254.72" font-size="33.50" fill="#2a2a2a" textLength="37.26" lengthAdjust="spacingAndGlyphs" style="">40</text>
<line x1="1139.50" y1="2334.90" x2="1146.50" y2="2334.90" stroke="#333" stroke-width="2.6"/>
<text x="1099.49" y="2346.62" font-size="33.50" fill="#2a2a2a" textLength="37.26" lengthAdjust="spacingAndGlyphs" style="">10</text>
<line x1="1139.50" y1="2426.50" x2="1146.50" y2="2426.50" stroke="#333" stroke-width="2.6"/>
<text x="1118.08" y="2438.22" font-size="33.50" fill="#2a2a2a" textLength="18.63" lengthAdjust="spacingAndGlyphs" style="">0</text>
<text x="1172.09" y="2485.20" font-size="41.00" fill="#000" textLength="105.41" lengthAdjust="spacingAndGlyphs" style="">eGFP</text>
<text x="1329.75" y="2485.20" font-size="41.00" fill="#000" textLength="80.67" lengthAdjust="spacingAndGlyphs" style="">Egr1</text>
<text x="1284.63" y="2106.00" font-size="35.00" fill="#000" textLength="53.25" lengthAdjust="spacingAndGlyphs" style="">NS</text>
<line x1="1286.60" y1="2114.30" x2="1337.00" y2="2114.30" stroke="#000" stroke-width="2.2"/>
<text transform="translate(1090.60,2443.81) rotate(-90)" x="0" y="0" font-size="40.00" fill="#000" textLength="391.35" lengthAdjust="spacingAndGlyphs" style="">Time in open arms (s)</text>
<text x="1258.69" y="2545.30" font-size="50.00" fill="#2f56b8" textLength="41.78" lengthAdjust="spacingAndGlyphs" style="">M</text>
<text x="1310.71" y="2544.90" font-size="60.00" fill="#2f56b8" textLength="40.28" lengthAdjust="spacingAndGlyphs" style="font-family:'DejaVu Sans',sans-serif">♂</text>
<line x1="1748.70" y1="2196.00" x2="1748.70" y2="2256.30" stroke="#222" stroke-width="2.6"/>
<line x1="1748.70" y1="2335.70" x2="1748.70" y2="2425.20" stroke="#222" stroke-width="2.6"/>
<rect x="1697.00" y="2256.30" width="103.40" height="79.40" fill="#a9b9c6" stroke="#333" stroke-width="2.6"/>
<line x1="1697.00" y1="2305.30" x2="1800.40" y2="2305.30" stroke="#333" stroke-width="5.5"/>
<circle cx="1748.70" cy="2196.00" r="2.90" fill="rgba(0,0,0,0.55)" stroke="rgba(0,0,0,0.85)" stroke-width="1.2"/>
<circle cx="1748.70" cy="2249.90" r="2.90" fill="rgba(0,0,0,0.55)" stroke="rgba(0,0,0,0.85)" stroke-width="1.2"/>
<circle cx="1748.70" cy="2258.90" r="2.90" fill="rgba(0,0,0,0.55)" stroke="rgba(0,0,0,0.85)" stroke-width="1.2"/>
<circle cx="1748.70" cy="2282.10" r="2.90" fill="rgba(0,0,0,0.55)" stroke="rgba(0,0,0,0.85)" stroke-width="1.2"/>
<circle cx="1748.70" cy="2300.20" r="2.90" fill="rgba(0,0,0,0.55)" stroke="rgba(0,0,0,0.85)" stroke-width="1.2"/>
<circle cx="1748.70" cy="2310.80" r="2.90" fill="rgba(0,0,0,0.55)" stroke="rgba(0,0,0,0.85)" stroke-width="1.2"/>
<circle cx="1748.70" cy="2320.60" r="2.90" fill="rgba(0,0,0,0.55)" stroke="rgba(0,0,0,0.85)" stroke-width="1.2"/>
<circle cx="1748.70" cy="2326.80" r="2.90" fill="rgba(0,0,0,0.55)" stroke="rgba(0,0,0,0.85)" stroke-width="1.2"/>
<circle cx="1748.70" cy="2360.30" r="2.90" fill="rgba(0,0,0,0.55)" stroke="rgba(0,0,0,0.85)" stroke-width="1.2"/>
<circle cx="1748.70" cy="2413.40" r="2.90" fill="rgba(0,0,0,0.55)" stroke="rgba(0,0,0,0.85)" stroke-width="1.2"/>
<circle cx="1748.70" cy="2425.20" r="2.90" fill="rgba(0,0,0,0.55)" stroke="rgba(0,0,0,0.85)" stroke-width="1.2"/>
<line x1="1886.30" y1="2171.70" x2="1886.30" y2="2220.60" stroke="#222" stroke-width="2.6"/>
<line x1="1886.30" y1="2257.70" x2="1886.30" y2="2259.70" stroke="#222" stroke-width="2.6"/>
<rect x="1834.60" y="2220.60" width="103.40" height="37.10" fill="#4a8bd6" stroke="#333" stroke-width="2.6"/>
<line x1="1834.60" y1="2225.30" x2="1938.00" y2="2225.30" stroke="#333" stroke-width="5.5"/>
<circle cx="1886.30" cy="2171.70" r="2.90" fill="rgba(0,0,0,0.55)" stroke="rgba(0,0,0,0.85)" stroke-width="1.2"/>
<circle cx="1886.30" cy="2209.40" r="2.90" fill="rgba(0,0,0,0.55)" stroke="rgba(0,0,0,0.85)" stroke-width="1.2"/>
<circle cx="1886.30" cy="2220.60" r="2.90" fill="rgba(0,0,0,0.55)" stroke="rgba(0,0,0,0.85)" stroke-width="1.2"/>
<circle cx="1886.30" cy="2223.40" r="2.90" fill="rgba(0,0,0,0.55)" stroke="rgba(0,0,0,0.85)" stroke-width="1.2"/>
<circle cx="1886.30" cy="2227.00" r="2.90" fill="rgba(0,0,0,0.55)" stroke="rgba(0,0,0,0.85)" stroke-width="1.2"/>
<circle cx="1886.30" cy="2252.70" r="2.90" fill="rgba(0,0,0,0.55)" stroke="rgba(0,0,0,0.85)" stroke-width="1.2"/>
<circle cx="1886.30" cy="2259.70" r="2.90" fill="rgba(0,0,0,0.55)" stroke="rgba(0,0,0,0.85)" stroke-width="1.2"/>
<circle cx="1886.30" cy="2347.70" r="2.90" fill="rgba(0,0,0,0.55)" stroke="rgba(0,0,0,0.85)" stroke-width="1.2"/>
<circle cx="1886.30" cy="2380.40" r="2.90" fill="rgba(0,0,0,0.55)" stroke="rgba(0,0,0,0.85)" stroke-width="1.2"/>
<line x1="1666.90" y1="2065.50" x2="1666.90" y2="2442.70" stroke="#000" stroke-width="2.6"/>
<line x1="1665.60" y1="2441.40" x2="1968.10" y2="2441.40" stroke="#000" stroke-width="2.6"/>
<line x1="1748.70" y1="2441.40" x2="1748.70" y2="2448.40" stroke="#333" stroke-width="2.6"/>
<line x1="1886.30" y1="2441.40" x2="1886.30" y2="2448.40" stroke="#333" stroke-width="2.6"/>
<line x1="1659.90" y1="2082.20" x2="1666.90" y2="2082.20" stroke="#333" stroke-width="2.6"/>
<text x="1600.39" y="2093.92" font-size="33.50" fill="#2a2a2a" textLength="55.90" lengthAdjust="spacingAndGlyphs" style="">250</text>
<line x1="1659.90" y1="2150.70" x2="1666.90" y2="2150.70" stroke="#333" stroke-width="2.6"/>
<text x="1600.39" y="2162.42" font-size="33.50" fill="#2a2a2a" textLength="55.90" lengthAdjust="spacingAndGlyphs" style="">200</text>
<line x1="1659.90" y1="2219.20" x2="1666.90" y2="2219.20" stroke="#333" stroke-width="2.6"/>
<text x="1600.39" y="2230.92" font-size="33.50" fill="#2a2a2a" textLength="55.90" lengthAdjust="spacingAndGlyphs" style="">150</text>
<line x1="1659.90" y1="2287.60" x2="1666.90" y2="2287.60" stroke="#333" stroke-width="2.6"/>
<text x="1600.39" y="2299.32" font-size="33.50" fill="#2a2a2a" textLength="55.90" lengthAdjust="spacingAndGlyphs" style="">100</text>
<line x1="1659.90" y1="2356.10" x2="1666.90" y2="2356.10" stroke="#333" stroke-width="2.6"/>
<text x="1618.99" y="2367.82" font-size="33.50" fill="#2a2a2a" textLength="37.26" lengthAdjust="spacingAndGlyphs" style="">50</text>
<line x1="1659.90" y1="2425.20" x2="1666.90" y2="2425.20" stroke="#333" stroke-width="2.6"/>
<text x="1637.58" y="2436.92" font-size="33.50" fill="#2a2a2a" textLength="18.63" lengthAdjust="spacingAndGlyphs" style="">0</text>
<text x="1686.28" y="2483.30" font-size="41.00" fill="#000" textLength="105.62" lengthAdjust="spacingAndGlyphs" style="">eGFP</text>
<text x="1839.25" y="2483.30" font-size="41.00" fill="#000" textLength="80.67" lengthAdjust="spacingAndGlyphs" style="">Egr1</text>
<text x="1788.93" y="2106.00" font-size="35.00" fill="#000" textLength="53.36" lengthAdjust="spacingAndGlyphs" style="">NS</text>
<line x1="1790.70" y1="2114.40" x2="1841.50" y2="2114.40" stroke="#000" stroke-width="2.2"/>
<text transform="translate(1575.55,2453.26) rotate(-90)" x="0" y="0" font-size="38.00" fill="#000" textLength="405.64" lengthAdjust="spacingAndGlyphs" style="">Time spent immobile (s)</text>
<text x="1764.44" y="2546.40" font-size="50.29" fill="#2f56b8" textLength="41.28" lengthAdjust="spacingAndGlyphs" style="">M</text>
<text x="1816.52" y="2545.90" font-size="59.86" fill="#2f56b8" textLength="40.16" lengthAdjust="spacingAndGlyphs" style="font-family:'DejaVu Sans',sans-serif">♂</text>
</svg>
</body></html>
